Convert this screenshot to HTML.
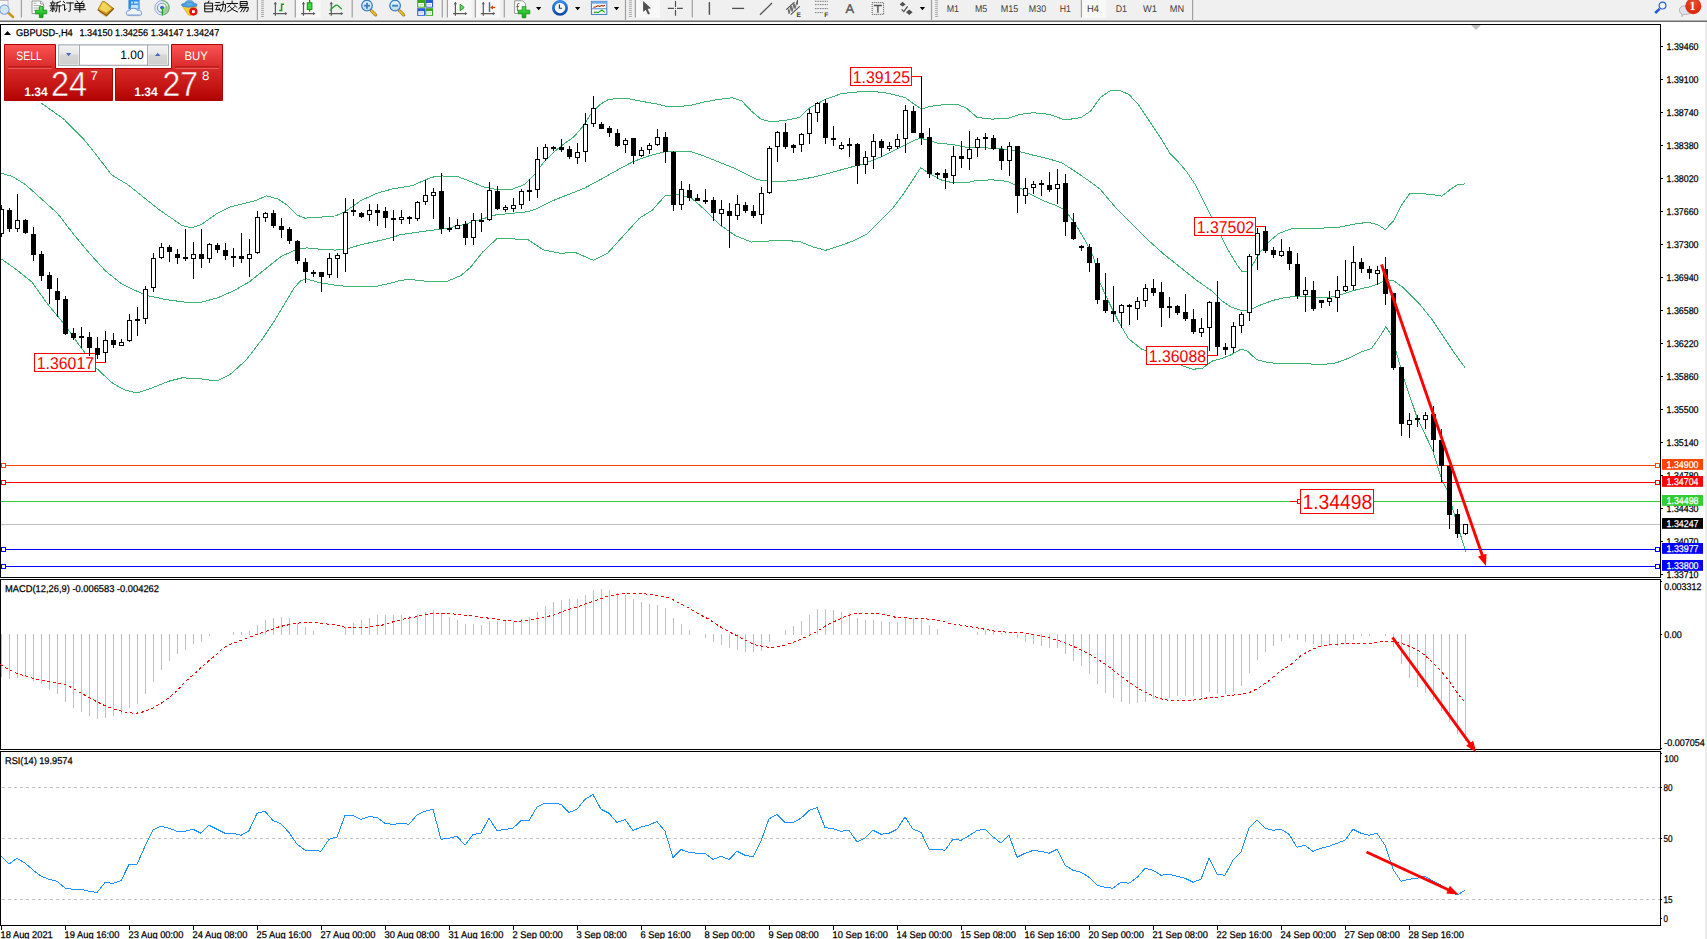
<!DOCTYPE html>
<html><head><meta charset="utf-8"><title>GBPUSD H4</title>
<style>
html,body{margin:0;padding:0;background:#fff;overflow:hidden}
body{width:1707px;height:939px;position:relative;font-family:"Liberation Sans",sans-serif}
svg{position:absolute;left:0;top:0;display:block}
text{font-family:"Liberation Sans",sans-serif;text-rendering:geometricPrecision}
</style></head><body>
<svg width="1707" height="939" viewBox="0 0 1707 939">

<rect x="0" y="0" width="1707" height="939" fill="#fff"/>
<rect x="0" y="0" width="1707" height="20" fill="#f0f0f0"/>
<rect x="0" y="20" width="1707" height="1" fill="#b0b0b0"/><rect x="0" y="21" width="1707" height="1" fill="#6c6c6c"/>
<rect x="1705" y="22" width="2" height="917" fill="#ececec"/>
<g shape-rendering="crispEdges">
<rect x="0" y="24" width="1661" height="1" fill="#000"/>
<rect x="0" y="577" width="1661" height="1" fill="#000"/>
<rect x="0" y="24" width="1" height="554" fill="#000"/>
<rect x="1660" y="24" width="1" height="554" fill="#000"/>
<rect x="0" y="579" width="1661" height="1" fill="#000"/>
<rect x="0" y="749" width="1661" height="1" fill="#000"/>
<rect x="0" y="579" width="1" height="171" fill="#000"/>
<rect x="1660" y="579" width="1" height="171" fill="#000"/>
<rect x="0" y="751" width="1661" height="1" fill="#000"/>
<rect x="0" y="925" width="1661" height="1" fill="#000"/>
<rect x="0" y="751" width="1" height="175" fill="#000"/>
<rect x="1660" y="751" width="1" height="175" fill="#000"/>
</g>
<clipPath id="cm"><rect x="1" y="25" width="1659" height="552"/></clipPath>
<g clip-path="url(#cm)">
<rect x="1" y="524" width="1659" height="1" fill="#c0c0c0" shape-rendering="crispEdges"/>
<polyline points="41.52,103.19 63.88,119.16 83.04,138.33 95.82,154.3 111.79,175.06 127.75,184.64 143.72,197.41 159.69,210.19 172.47,218.81 182.05,225.52 191.63,227.75 201.21,224.56 217.18,213.38 229.96,206.99 242.73,203.8 255.51,200.61 266.69,195.82 277.87,199.01 287.45,205.4 297.03,214.98 305.01,218.17 319.39,217.21 335.36,215.94 344.94,211.79 360.91,200.61 376.88,193.26 392.85,188.79 400,187.75 412.78,185.52 425.55,179.77 431.94,177.21 441.52,175.94 457.49,176.58 470.27,181.37 483.04,186.8 495.82,189.35 511.79,189.35 524.56,184.56 534.14,174.98 543.72,162.2 553.31,152.62 562.89,144.64 574.07,136.65 583.65,125.47 591.63,112.7 599.62,104.71 607.6,99.92 617.18,98.33 629.96,98.97 642.73,101.52 655.51,103.76 666.69,106.31 677.87,106.63 690.64,105.35 703.42,102.16 719.39,99.28 732.16,97.69 741.74,100.88 751.33,111.1 760.91,119.09 770.49,121.64 783.26,120.68 799.23,117.49 809.58,107.91 825.55,99.28 841.52,93.54 857.49,91.94 873.46,91.3 889.43,93.54 905.4,97.69 914.98,104.71 921.37,108.87 930.95,106.31 943.72,104.71 956.5,104.08 966.08,107.91 977.26,117.49 991.63,119.09 1007.6,118.45 1020.38,114.3 1033.15,112.7 1049.12,114.3 1065.09,120.04 1081.06,117.49 1090.64,111.1 1100.22,97.69 1109.81,90.98 1119.39,90.34 1128.97,94.49 1138.55,104.71 1151.33,123.88 1160.91,138.25 1170.49,154.22 1176.65,160 1186.23,171.18 1195.82,185.55 1205.4,204.71 1214.98,223.88 1227.75,249.43 1237.34,265.4 1242.13,271.79 1247.56,271.15 1253.31,263.8 1259.69,252.62 1269.27,241.44 1278.86,233.46 1291.63,228.67 1307.6,228.03 1323.57,228.03 1339.54,227.07 1355.51,223.88 1368.28,222.28 1377.87,224.84 1385.21,229.63 1393.84,220.68 1401.82,204.71 1409.81,193.54 1419.39,193.54 1432.16,194.49 1441.74,196.09 1451.33,188.74 1457.71,184.59 1465.06,183.95" fill="none" stroke="#3cb371" stroke-width="1" shape-rendering="crispEdges"/>
<polyline points="0,172.82 12.78,176.65 25.55,184.64 41.52,199.01 57.49,213.38 73.46,234.14 89.43,253.31 105.4,270.87 121.37,283.65 134.14,290.04 146.92,295.46 166.08,299.62 185.24,302.17 201.21,302.17 217.18,298.02 233.15,290.99 249.12,282.05 265.09,269.27 281.06,256.5 297.03,249.15 306.61,247.88 319.39,249.15 335.36,250.11 348.13,248.51 360.91,244.68 376.88,241.17 392.85,237.34 400,234.7 415.97,232.47 431.94,230.23 447.91,228.32 463.88,224.48 479.85,219.69 495.82,214.9 511.79,213.31 527.75,211.71 537.34,208.51 553.31,200.53 569.27,194.14 585.24,187.75 601.21,179.13 617.18,170.19 633.15,161.56 649.12,155.82 665.09,151.66 681.06,151.03 690.64,151.66 703.42,155.82 719.39,162.2 735.36,168.59 748.13,174.98 757.71,179.77 770.49,181.37 783.26,181.37 799.23,179.77 815.97,176.58 831.94,172.42 847.91,167.95 863.88,163.8 879.85,157.41 895.82,149.43 911.79,141.44 919.77,138.25 927.75,139.85 937.34,143.04 953.31,144.64 969.27,147.83 985.24,147.83 1001.21,148.79 1017.18,151.03 1033.15,155.18 1049.12,159.01 1061.9,162.84 1074.67,171.15 1087.45,179.77 1100.22,189.35 1115.97,207.91 1131.94,223.88 1147.91,239.85 1163.88,254.22 1179.85,266.99 1195.82,279.77 1211.79,290.95 1221.37,300.53 1230.95,306.92 1240.53,310.11 1250.11,310.11 1259.69,305.32 1272.47,300.53 1285.24,297.34 1298.02,296.38 1317.18,297.34 1329.96,297.34 1342.73,294.14 1355.51,289.99 1368.28,287.12 1377.87,283.92 1387.45,279.77 1393.84,280.73 1403.42,287.75 1419.39,303.72 1432.16,319.69 1444.94,338.86 1454.52,353.23 1465.06,367.6" fill="none" stroke="#3cb371" stroke-width="1" shape-rendering="crispEdges"/>
<polyline points="0,258.1 15.97,269.27 31.94,282.05 47.91,304.41 63.88,323.57 79.85,345.93 95.82,367.65 111.79,382.66 124.56,390 137.34,392.88 153.31,387.45 169.27,381.06 182.05,377.87 198.02,378.51 217.18,381.06 229.96,374.67 245.93,360.3 261.9,339.54 274.67,320.38 284.25,304.41 293.84,288.44 300.22,281.09 306.61,278.86 319.39,282.69 335.36,285.24 351.33,286.84 376.88,286.2 392.85,282.69 400,280.38 409.58,279.42 419.16,280.38 431.94,281.97 447.91,281.02 460.68,275.59 470.27,267.6 483.04,251.63 497.41,238.22 511.79,238.86 527.75,239.5 543.72,250.04 559.69,253.23 575.66,252.59 593.23,260.26 607.6,253.23 623.57,235.66 639.54,218.1 652.32,210.11 665.09,195.74 677.87,194.78 690.64,197.34 703.42,208.51 719.39,224.48 735.36,235.66 751.33,242.05 767.29,241.09 783.26,240.45 799.23,241.41 812.78,246.84 825.55,250.35 841.52,245.24 854.3,240.45 867.07,234.07 879.85,221.29 892.62,208.51 902.2,195.74 911.79,181.37 920.73,167.63 927.75,172.42 940.53,179.77 953.31,182.96 966.08,182.96 975.66,180.73 991.63,179.77 1007.6,181.37 1017.18,186.16 1029.96,194.14 1042.73,200.53 1055.51,205.32 1065.09,210.11 1074.67,222.89 1084.25,238.86 1093.84,258.02 1100,282.96 1109.58,303.72 1119.16,322.89 1128.74,338.86 1141.52,349.08 1157.49,354.83 1170.27,359.62 1183.04,366 1192.62,369.2 1202.2,368.56 1211.79,361.21 1221.37,358.66 1230.95,354.83 1240.53,349.4 1246.92,350.67 1256.5,359.62 1269.27,362.81 1285.24,363.77 1304.41,363.77 1323.57,364.41 1336.35,362.81 1349.12,358.02 1361.9,351.63 1371.48,348.44 1379.46,337.26 1385.85,326.72 1390.64,334.07 1397.03,354.83 1403.42,377.18 1417.33,418.35 1432.67,450.3 1441.19,478 1447.58,490.78 1456.11,520.61 1465.69,551.5" fill="none" stroke="#3cb371" stroke-width="1" shape-rendering="crispEdges"/>
<rect x="1" y="465" width="1659" height="1" fill="#ff4500" shape-rendering="crispEdges"/>
<rect x="1" y="482" width="1659" height="1" fill="#ff0000" shape-rendering="crispEdges"/>
<rect x="1" y="501" width="1659" height="1" fill="#32cd32" shape-rendering="crispEdges"/>
<rect x="1" y="549" width="1659" height="1" fill="#0000ff" shape-rendering="crispEdges"/>
<rect x="1" y="566" width="1659" height="1" fill="#0000ff" shape-rendering="crispEdges"/>
<rect x="1.5" y="463.5" width="4" height="4" fill="#fff" stroke="#ff4500" stroke-width="1"/>
<rect x="1655.5" y="463.5" width="4" height="4" fill="#fff" stroke="#ff4500" stroke-width="1"/>
<rect x="1.5" y="480.5" width="4" height="4" fill="#fff" stroke="#ff0000" stroke-width="1"/>
<rect x="1655.5" y="480.5" width="4" height="4" fill="#fff" stroke="#ff0000" stroke-width="1"/>
<rect x="1.5" y="547.5" width="4" height="4" fill="#fff" stroke="#0000ff" stroke-width="1"/>
<rect x="1655.5" y="547.5" width="4" height="4" fill="#fff" stroke="#0000ff" stroke-width="1"/>
<rect x="1.5" y="564.5" width="4" height="4" fill="#fff" stroke="#0000ff" stroke-width="1"/>
<rect x="1655.5" y="564.5" width="4" height="4" fill="#fff" stroke="#0000ff" stroke-width="1"/>
<rect x="850.5" y="67.5" width="61" height="18" fill="#fff" stroke="#ff0000" stroke-width="1"/>
<text x="852.8" y="83.1" font-size="17" fill="#ff0000" textLength="57.2" lengthAdjust="spacingAndGlyphs">1.39125</text>
<rect x="912" y="76" width="10" height="1" fill="#ff0000" shape-rendering="crispEdges"/>
<rect x="34.5" y="353.5" width="61" height="18" fill="#fff" stroke="#ff0000" stroke-width="1"/>
<text x="36.8" y="369.1" font-size="17" fill="#ff0000" textLength="57.2" lengthAdjust="spacingAndGlyphs">1.36017</text>
<rect x="96" y="362" width="10" height="1" fill="#ff0000" shape-rendering="crispEdges"/>
<rect x="1194.5" y="217.5" width="61" height="18" fill="#fff" stroke="#ff0000" stroke-width="1"/>
<text x="1196.8" y="233.1" font-size="17" fill="#ff0000" textLength="57.2" lengthAdjust="spacingAndGlyphs">1.37502</text>
<rect x="1256" y="226" width="10" height="1" fill="#ff0000" shape-rendering="crispEdges"/>
<rect x="1146.5" y="346.5" width="61" height="18" fill="#fff" stroke="#ff0000" stroke-width="1"/>
<text x="1148.8" y="362.1" font-size="17" fill="#ff0000" textLength="57.2" lengthAdjust="spacingAndGlyphs">1.36088</text>
<rect x="1208" y="355" width="10" height="1" fill="#ff0000" shape-rendering="crispEdges"/>
<rect x="1300.5" y="489.5" width="73" height="24" fill="#fff" stroke="#ff0000" stroke-width="1"/>
<text x="1302.5" y="509.4" font-size="20.6" fill="#ff0000" textLength="69.8" lengthAdjust="spacingAndGlyphs">1.34498</text>
<rect x="1290" y="501" width="7" height="1" fill="#ff0000" shape-rendering="crispEdges"/>
<rect x="1297.5" y="499.5" width="3" height="4" fill="#fff" stroke="#ff0000" stroke-width="1"/>
<g shape-rendering="crispEdges">
<rect x="1" y="205" width="1" height="32" fill="#000"/>
<rect x="-1" y="209" width="5" height="25" fill="#000"/>
<rect x="0" y="210" width="3" height="23" fill="#fff"/>
<rect x="9" y="208" width="1" height="24" fill="#000"/>
<rect x="7" y="210" width="5" height="19" fill="#000"/>
<rect x="17" y="194" width="1" height="38" fill="#000"/>
<rect x="15" y="220" width="5" height="9" fill="#000"/>
<rect x="16" y="221" width="3" height="7" fill="#fff"/>
<rect x="25" y="219" width="1" height="15" fill="#000"/>
<rect x="23" y="220" width="5" height="13" fill="#000"/>
<rect x="33" y="227" width="1" height="34" fill="#000"/>
<rect x="31" y="234" width="5" height="21" fill="#000"/>
<rect x="41" y="251" width="1" height="30" fill="#000"/>
<rect x="39" y="254" width="5" height="22" fill="#000"/>
<rect x="49" y="272" width="1" height="32" fill="#000"/>
<rect x="47" y="275" width="5" height="14" fill="#000"/>
<rect x="57" y="278" width="1" height="39" fill="#000"/>
<rect x="55" y="291" width="5" height="9" fill="#000"/>
<rect x="65" y="296" width="1" height="39" fill="#000"/>
<rect x="63" y="299" width="5" height="35" fill="#000"/>
<rect x="73" y="328" width="1" height="12" fill="#000"/>
<rect x="71" y="333" width="5" height="5" fill="#000"/>
<rect x="81" y="327" width="1" height="21" fill="#000"/>
<rect x="79" y="336" width="5" height="2" fill="#000"/>
<rect x="89" y="332" width="1" height="24" fill="#000"/>
<rect x="87" y="337" width="5" height="11" fill="#000"/>
<rect x="97" y="337" width="1" height="22" fill="#000"/>
<rect x="95" y="348" width="5" height="7" fill="#000"/>
<rect x="105" y="331" width="1" height="31" fill="#000"/>
<rect x="103" y="340" width="5" height="13" fill="#000"/>
<rect x="104" y="341" width="3" height="11" fill="#fff"/>
<rect x="113" y="333" width="1" height="15" fill="#000"/>
<rect x="111" y="340" width="5" height="5" fill="#000"/>
<rect x="121" y="339" width="1" height="7" fill="#000"/>
<rect x="119" y="342" width="5" height="4" fill="#000"/>
<rect x="120" y="343" width="3" height="2" fill="#fff"/>
<rect x="129" y="314" width="1" height="28" fill="#000"/>
<rect x="127" y="320" width="5" height="21" fill="#000"/>
<rect x="128" y="321" width="3" height="19" fill="#fff"/>
<rect x="137" y="307" width="1" height="29" fill="#000"/>
<rect x="135" y="319" width="5" height="2" fill="#000"/>
<rect x="145" y="286" width="1" height="38" fill="#000"/>
<rect x="143" y="289" width="5" height="30" fill="#000"/>
<rect x="144" y="290" width="3" height="28" fill="#fff"/>
<rect x="153" y="253" width="1" height="39" fill="#000"/>
<rect x="151" y="258" width="5" height="30" fill="#000"/>
<rect x="152" y="259" width="3" height="28" fill="#fff"/>
<rect x="161" y="243" width="1" height="16" fill="#000"/>
<rect x="159" y="247" width="5" height="11" fill="#000"/>
<rect x="160" y="248" width="3" height="9" fill="#fff"/>
<rect x="169" y="245" width="1" height="17" fill="#000"/>
<rect x="167" y="247" width="5" height="5" fill="#000"/>
<rect x="177" y="249" width="1" height="15" fill="#000"/>
<rect x="175" y="254" width="5" height="4" fill="#000"/>
<rect x="185" y="229" width="1" height="32" fill="#000"/>
<rect x="183" y="257" width="5" height="2" fill="#000"/>
<rect x="193" y="242" width="1" height="37" fill="#000"/>
<rect x="191" y="254" width="5" height="5" fill="#000"/>
<rect x="192" y="255" width="3" height="3" fill="#fff"/>
<rect x="201" y="229" width="1" height="39" fill="#000"/>
<rect x="199" y="254" width="5" height="5" fill="#000"/>
<rect x="209" y="243" width="1" height="20" fill="#000"/>
<rect x="207" y="244" width="5" height="15" fill="#000"/>
<rect x="208" y="245" width="3" height="13" fill="#fff"/>
<rect x="217" y="243" width="1" height="10" fill="#000"/>
<rect x="215" y="245" width="5" height="5" fill="#000"/>
<rect x="225" y="243" width="1" height="17" fill="#000"/>
<rect x="223" y="250" width="5" height="6" fill="#000"/>
<rect x="233" y="248" width="1" height="19" fill="#000"/>
<rect x="231" y="256" width="5" height="2" fill="#000"/>
<rect x="241" y="233" width="1" height="30" fill="#000"/>
<rect x="239" y="256" width="5" height="3" fill="#000"/>
<rect x="249" y="239" width="1" height="38" fill="#000"/>
<rect x="247" y="254" width="5" height="5" fill="#000"/>
<rect x="248" y="255" width="3" height="3" fill="#fff"/>
<rect x="257" y="211" width="1" height="43" fill="#000"/>
<rect x="255" y="217" width="5" height="36" fill="#000"/>
<rect x="256" y="218" width="3" height="34" fill="#fff"/>
<rect x="265" y="212" width="1" height="10" fill="#000"/>
<rect x="263" y="213" width="5" height="5" fill="#000"/>
<rect x="264" y="214" width="3" height="3" fill="#fff"/>
<rect x="273" y="210" width="1" height="18" fill="#000"/>
<rect x="271" y="213" width="5" height="13" fill="#000"/>
<rect x="281" y="218" width="1" height="20" fill="#000"/>
<rect x="279" y="226" width="5" height="4" fill="#000"/>
<rect x="289" y="227" width="1" height="17" fill="#000"/>
<rect x="287" y="229" width="5" height="12" fill="#000"/>
<rect x="297" y="240" width="1" height="24" fill="#000"/>
<rect x="295" y="241" width="5" height="20" fill="#000"/>
<rect x="305" y="258" width="1" height="25" fill="#000"/>
<rect x="303" y="262" width="5" height="10" fill="#000"/>
<rect x="313" y="270" width="1" height="7" fill="#000"/>
<rect x="311" y="272" width="5" height="2" fill="#000"/>
<rect x="321" y="272" width="1" height="20" fill="#000"/>
<rect x="319" y="272" width="5" height="5" fill="#000"/>
<rect x="329" y="253" width="1" height="25" fill="#000"/>
<rect x="327" y="258" width="5" height="17" fill="#000"/>
<rect x="328" y="259" width="3" height="15" fill="#fff"/>
<rect x="337" y="253" width="1" height="25" fill="#000"/>
<rect x="335" y="255" width="5" height="4" fill="#000"/>
<rect x="336" y="256" width="3" height="2" fill="#fff"/>
<rect x="345" y="198" width="1" height="74" fill="#000"/>
<rect x="343" y="212" width="5" height="42" fill="#000"/>
<rect x="344" y="213" width="3" height="40" fill="#fff"/>
<rect x="353" y="199" width="1" height="17" fill="#000"/>
<rect x="351" y="210" width="5" height="2" fill="#000"/>
<rect x="361" y="212" width="1" height="6" fill="#000"/>
<rect x="359" y="213" width="5" height="4" fill="#000"/>
<rect x="369" y="204" width="1" height="17" fill="#000"/>
<rect x="367" y="210" width="5" height="5" fill="#000"/>
<rect x="368" y="211" width="3" height="3" fill="#fff"/>
<rect x="377" y="204" width="1" height="22" fill="#000"/>
<rect x="375" y="210" width="5" height="3" fill="#000"/>
<rect x="385" y="207" width="1" height="21" fill="#000"/>
<rect x="383" y="211" width="5" height="7" fill="#000"/>
<rect x="393" y="210" width="1" height="31" fill="#000"/>
<rect x="391" y="218" width="5" height="2" fill="#000"/>
<rect x="401" y="210" width="1" height="14" fill="#000"/>
<rect x="399" y="217" width="5" height="3" fill="#000"/>
<rect x="400" y="218" width="3" height="1" fill="#fff"/>
<rect x="409" y="216" width="1" height="8" fill="#000"/>
<rect x="407" y="217" width="5" height="2" fill="#000"/>
<rect x="417" y="201" width="1" height="20" fill="#000"/>
<rect x="415" y="202" width="5" height="17" fill="#000"/>
<rect x="416" y="203" width="3" height="15" fill="#fff"/>
<rect x="425" y="180" width="1" height="25" fill="#000"/>
<rect x="423" y="195" width="5" height="7" fill="#000"/>
<rect x="424" y="196" width="3" height="5" fill="#fff"/>
<rect x="433" y="188" width="1" height="31" fill="#000"/>
<rect x="431" y="192" width="5" height="4" fill="#000"/>
<rect x="432" y="193" width="3" height="2" fill="#fff"/>
<rect x="441" y="173" width="1" height="61" fill="#000"/>
<rect x="439" y="191" width="5" height="38" fill="#000"/>
<rect x="449" y="217" width="1" height="15" fill="#000"/>
<rect x="447" y="228" width="5" height="2" fill="#000"/>
<rect x="457" y="219" width="1" height="10" fill="#000"/>
<rect x="455" y="225" width="5" height="4" fill="#000"/>
<rect x="456" y="226" width="3" height="2" fill="#fff"/>
<rect x="465" y="221" width="1" height="24" fill="#000"/>
<rect x="463" y="224" width="5" height="14" fill="#000"/>
<rect x="473" y="213" width="1" height="32" fill="#000"/>
<rect x="471" y="220" width="5" height="18" fill="#000"/>
<rect x="472" y="221" width="3" height="16" fill="#fff"/>
<rect x="481" y="213" width="1" height="19" fill="#000"/>
<rect x="479" y="220" width="5" height="2" fill="#000"/>
<rect x="489" y="182" width="1" height="39" fill="#000"/>
<rect x="487" y="190" width="5" height="30" fill="#000"/>
<rect x="488" y="191" width="3" height="28" fill="#fff"/>
<rect x="497" y="186" width="1" height="24" fill="#000"/>
<rect x="495" y="191" width="5" height="18" fill="#000"/>
<rect x="505" y="205" width="1" height="7" fill="#000"/>
<rect x="503" y="207" width="5" height="3" fill="#000"/>
<rect x="504" y="208" width="3" height="1" fill="#fff"/>
<rect x="513" y="198" width="1" height="14" fill="#000"/>
<rect x="511" y="205" width="5" height="4" fill="#000"/>
<rect x="512" y="206" width="3" height="2" fill="#fff"/>
<rect x="521" y="189" width="1" height="20" fill="#000"/>
<rect x="519" y="191" width="5" height="14" fill="#000"/>
<rect x="520" y="192" width="3" height="12" fill="#fff"/>
<rect x="529" y="179" width="1" height="22" fill="#000"/>
<rect x="527" y="190" width="5" height="2" fill="#000"/>
<rect x="537" y="147" width="1" height="51" fill="#000"/>
<rect x="535" y="159" width="5" height="31" fill="#000"/>
<rect x="536" y="160" width="3" height="29" fill="#fff"/>
<rect x="545" y="144" width="1" height="17" fill="#000"/>
<rect x="543" y="147" width="5" height="12" fill="#000"/>
<rect x="544" y="148" width="3" height="10" fill="#fff"/>
<rect x="553" y="146" width="1" height="5" fill="#000"/>
<rect x="551" y="147" width="5" height="2" fill="#000"/>
<rect x="561" y="139" width="1" height="13" fill="#000"/>
<rect x="559" y="147" width="5" height="3" fill="#000"/>
<rect x="569" y="146" width="1" height="13" fill="#000"/>
<rect x="567" y="149" width="5" height="8" fill="#000"/>
<rect x="577" y="143" width="1" height="21" fill="#000"/>
<rect x="575" y="152" width="5" height="6" fill="#000"/>
<rect x="576" y="153" width="3" height="4" fill="#fff"/>
<rect x="585" y="113" width="1" height="49" fill="#000"/>
<rect x="583" y="124" width="5" height="28" fill="#000"/>
<rect x="584" y="125" width="3" height="26" fill="#fff"/>
<rect x="593" y="96" width="1" height="31" fill="#000"/>
<rect x="591" y="108" width="5" height="16" fill="#000"/>
<rect x="592" y="109" width="3" height="14" fill="#fff"/>
<rect x="601" y="122" width="1" height="7" fill="#000"/>
<rect x="599" y="124" width="5" height="5" fill="#000"/>
<rect x="609" y="126" width="1" height="11" fill="#000"/>
<rect x="607" y="128" width="5" height="5" fill="#000"/>
<rect x="617" y="129" width="1" height="18" fill="#000"/>
<rect x="615" y="133" width="5" height="13" fill="#000"/>
<rect x="625" y="138" width="1" height="15" fill="#000"/>
<rect x="623" y="140" width="5" height="5" fill="#000"/>
<rect x="624" y="141" width="3" height="3" fill="#fff"/>
<rect x="633" y="138" width="1" height="26" fill="#000"/>
<rect x="631" y="138" width="5" height="18" fill="#000"/>
<rect x="641" y="147" width="1" height="10" fill="#000"/>
<rect x="639" y="150" width="5" height="6" fill="#000"/>
<rect x="640" y="151" width="3" height="4" fill="#fff"/>
<rect x="649" y="143" width="1" height="11" fill="#000"/>
<rect x="647" y="145" width="5" height="5" fill="#000"/>
<rect x="648" y="146" width="3" height="3" fill="#fff"/>
<rect x="657" y="129" width="1" height="17" fill="#000"/>
<rect x="655" y="137" width="5" height="8" fill="#000"/>
<rect x="656" y="138" width="3" height="6" fill="#fff"/>
<rect x="665" y="132" width="1" height="31" fill="#000"/>
<rect x="663" y="137" width="5" height="15" fill="#000"/>
<rect x="673" y="151" width="1" height="60" fill="#000"/>
<rect x="671" y="152" width="5" height="53" fill="#000"/>
<rect x="681" y="181" width="1" height="29" fill="#000"/>
<rect x="679" y="189" width="5" height="16" fill="#000"/>
<rect x="680" y="190" width="3" height="14" fill="#fff"/>
<rect x="689" y="184" width="1" height="17" fill="#000"/>
<rect x="687" y="190" width="5" height="8" fill="#000"/>
<rect x="697" y="194" width="1" height="7" fill="#000"/>
<rect x="695" y="198" width="5" height="3" fill="#000"/>
<rect x="705" y="189" width="1" height="15" fill="#000"/>
<rect x="703" y="200" width="5" height="2" fill="#000"/>
<rect x="713" y="197" width="1" height="24" fill="#000"/>
<rect x="711" y="200" width="5" height="13" fill="#000"/>
<rect x="721" y="200" width="1" height="26" fill="#000"/>
<rect x="719" y="209" width="5" height="5" fill="#000"/>
<rect x="720" y="210" width="3" height="3" fill="#fff"/>
<rect x="729" y="203" width="1" height="45" fill="#000"/>
<rect x="727" y="211" width="5" height="5" fill="#000"/>
<rect x="737" y="195" width="1" height="25" fill="#000"/>
<rect x="735" y="204" width="5" height="12" fill="#000"/>
<rect x="736" y="205" width="3" height="10" fill="#fff"/>
<rect x="745" y="202" width="1" height="11" fill="#000"/>
<rect x="743" y="205" width="5" height="6" fill="#000"/>
<rect x="753" y="205" width="1" height="13" fill="#000"/>
<rect x="751" y="211" width="5" height="5" fill="#000"/>
<rect x="761" y="187" width="1" height="37" fill="#000"/>
<rect x="759" y="193" width="5" height="22" fill="#000"/>
<rect x="760" y="194" width="3" height="20" fill="#fff"/>
<rect x="769" y="146" width="1" height="48" fill="#000"/>
<rect x="767" y="148" width="5" height="45" fill="#000"/>
<rect x="768" y="149" width="3" height="43" fill="#fff"/>
<rect x="777" y="131" width="1" height="31" fill="#000"/>
<rect x="775" y="132" width="5" height="15" fill="#000"/>
<rect x="776" y="133" width="3" height="13" fill="#fff"/>
<rect x="785" y="123" width="1" height="26" fill="#000"/>
<rect x="783" y="132" width="5" height="15" fill="#000"/>
<rect x="793" y="144" width="1" height="9" fill="#000"/>
<rect x="791" y="145" width="5" height="3" fill="#000"/>
<rect x="801" y="133" width="1" height="19" fill="#000"/>
<rect x="799" y="134" width="5" height="11" fill="#000"/>
<rect x="800" y="135" width="3" height="9" fill="#fff"/>
<rect x="809" y="109" width="1" height="35" fill="#000"/>
<rect x="807" y="113" width="5" height="21" fill="#000"/>
<rect x="808" y="114" width="3" height="19" fill="#fff"/>
<rect x="817" y="102" width="1" height="20" fill="#000"/>
<rect x="815" y="103" width="5" height="10" fill="#000"/>
<rect x="816" y="104" width="3" height="8" fill="#fff"/>
<rect x="825" y="99" width="1" height="45" fill="#000"/>
<rect x="823" y="103" width="5" height="35" fill="#000"/>
<rect x="833" y="126" width="1" height="20" fill="#000"/>
<rect x="831" y="138" width="5" height="2" fill="#000"/>
<rect x="841" y="142" width="1" height="8" fill="#000"/>
<rect x="839" y="145" width="5" height="4" fill="#000"/>
<rect x="840" y="146" width="3" height="2" fill="#fff"/>
<rect x="849" y="138" width="1" height="19" fill="#000"/>
<rect x="847" y="144" width="5" height="2" fill="#000"/>
<rect x="857" y="143" width="1" height="41" fill="#000"/>
<rect x="855" y="144" width="5" height="22" fill="#000"/>
<rect x="865" y="151" width="1" height="23" fill="#000"/>
<rect x="863" y="157" width="5" height="8" fill="#000"/>
<rect x="864" y="158" width="3" height="6" fill="#fff"/>
<rect x="873" y="134" width="1" height="35" fill="#000"/>
<rect x="871" y="141" width="5" height="16" fill="#000"/>
<rect x="872" y="142" width="3" height="14" fill="#fff"/>
<rect x="881" y="139" width="1" height="18" fill="#000"/>
<rect x="879" y="141" width="5" height="7" fill="#000"/>
<rect x="889" y="142" width="1" height="9" fill="#000"/>
<rect x="887" y="146" width="5" height="3" fill="#000"/>
<rect x="888" y="147" width="3" height="1" fill="#fff"/>
<rect x="897" y="134" width="1" height="15" fill="#000"/>
<rect x="895" y="139" width="5" height="8" fill="#000"/>
<rect x="896" y="140" width="3" height="6" fill="#fff"/>
<rect x="905" y="105" width="1" height="48" fill="#000"/>
<rect x="903" y="110" width="5" height="29" fill="#000"/>
<rect x="904" y="111" width="3" height="27" fill="#fff"/>
<rect x="913" y="106" width="1" height="27" fill="#000"/>
<rect x="911" y="111" width="5" height="22" fill="#000"/>
<rect x="921" y="76" width="1" height="69" fill="#000"/>
<rect x="919" y="133" width="5" height="5" fill="#000"/>
<rect x="929" y="128" width="1" height="50" fill="#000"/>
<rect x="927" y="137" width="5" height="37" fill="#000"/>
<rect x="937" y="172" width="1" height="7" fill="#000"/>
<rect x="935" y="173" width="5" height="2" fill="#000"/>
<rect x="945" y="169" width="1" height="20" fill="#000"/>
<rect x="943" y="173" width="5" height="5" fill="#000"/>
<rect x="953" y="146" width="1" height="38" fill="#000"/>
<rect x="951" y="156" width="5" height="20" fill="#000"/>
<rect x="952" y="157" width="3" height="18" fill="#fff"/>
<rect x="961" y="141" width="1" height="27" fill="#000"/>
<rect x="959" y="156" width="5" height="3" fill="#000"/>
<rect x="969" y="131" width="1" height="39" fill="#000"/>
<rect x="967" y="149" width="5" height="10" fill="#000"/>
<rect x="968" y="150" width="3" height="8" fill="#fff"/>
<rect x="977" y="137" width="1" height="20" fill="#000"/>
<rect x="975" y="139" width="5" height="9" fill="#000"/>
<rect x="976" y="140" width="3" height="7" fill="#fff"/>
<rect x="985" y="133" width="1" height="17" fill="#000"/>
<rect x="983" y="137" width="5" height="2" fill="#000"/>
<rect x="993" y="135" width="1" height="15" fill="#000"/>
<rect x="991" y="138" width="5" height="11" fill="#000"/>
<rect x="1001" y="146" width="1" height="24" fill="#000"/>
<rect x="999" y="149" width="5" height="12" fill="#000"/>
<rect x="1009" y="142" width="1" height="34" fill="#000"/>
<rect x="1007" y="146" width="5" height="15" fill="#000"/>
<rect x="1008" y="147" width="3" height="13" fill="#fff"/>
<rect x="1017" y="146" width="1" height="67" fill="#000"/>
<rect x="1015" y="146" width="5" height="50" fill="#000"/>
<rect x="1025" y="178" width="1" height="26" fill="#000"/>
<rect x="1023" y="188" width="5" height="8" fill="#000"/>
<rect x="1024" y="189" width="3" height="6" fill="#fff"/>
<rect x="1033" y="181" width="1" height="13" fill="#000"/>
<rect x="1031" y="184" width="5" height="4" fill="#000"/>
<rect x="1032" y="185" width="3" height="2" fill="#fff"/>
<rect x="1041" y="180" width="1" height="16" fill="#000"/>
<rect x="1039" y="183" width="5" height="2" fill="#000"/>
<rect x="1049" y="172" width="1" height="20" fill="#000"/>
<rect x="1047" y="185" width="5" height="5" fill="#000"/>
<rect x="1057" y="169" width="1" height="35" fill="#000"/>
<rect x="1055" y="184" width="5" height="5" fill="#000"/>
<rect x="1056" y="185" width="3" height="3" fill="#fff"/>
<rect x="1065" y="174" width="1" height="62" fill="#000"/>
<rect x="1063" y="183" width="5" height="39" fill="#000"/>
<rect x="1073" y="213" width="1" height="27" fill="#000"/>
<rect x="1071" y="222" width="5" height="17" fill="#000"/>
<rect x="1081" y="245" width="1" height="6" fill="#000"/>
<rect x="1079" y="246" width="5" height="2" fill="#000"/>
<rect x="1089" y="244" width="1" height="28" fill="#000"/>
<rect x="1087" y="247" width="5" height="16" fill="#000"/>
<rect x="1097" y="258" width="1" height="46" fill="#000"/>
<rect x="1095" y="263" width="5" height="37" fill="#000"/>
<rect x="1105" y="273" width="1" height="40" fill="#000"/>
<rect x="1103" y="300" width="5" height="11" fill="#000"/>
<rect x="1113" y="286" width="1" height="36" fill="#000"/>
<rect x="1111" y="311" width="5" height="3" fill="#000"/>
<rect x="1121" y="304" width="1" height="24" fill="#000"/>
<rect x="1119" y="305" width="5" height="8" fill="#000"/>
<rect x="1120" y="306" width="3" height="6" fill="#fff"/>
<rect x="1129" y="304" width="1" height="21" fill="#000"/>
<rect x="1127" y="305" width="5" height="2" fill="#000"/>
<rect x="1137" y="297" width="1" height="23" fill="#000"/>
<rect x="1135" y="301" width="5" height="8" fill="#000"/>
<rect x="1136" y="302" width="3" height="6" fill="#fff"/>
<rect x="1145" y="284" width="1" height="23" fill="#000"/>
<rect x="1143" y="288" width="5" height="13" fill="#000"/>
<rect x="1144" y="289" width="3" height="11" fill="#fff"/>
<rect x="1153" y="279" width="1" height="17" fill="#000"/>
<rect x="1151" y="288" width="5" height="5" fill="#000"/>
<rect x="1161" y="282" width="1" height="45" fill="#000"/>
<rect x="1159" y="292" width="5" height="16" fill="#000"/>
<rect x="1169" y="297" width="1" height="21" fill="#000"/>
<rect x="1167" y="306" width="5" height="2" fill="#000"/>
<rect x="1177" y="305" width="1" height="10" fill="#000"/>
<rect x="1175" y="306" width="5" height="7" fill="#000"/>
<rect x="1185" y="294" width="1" height="27" fill="#000"/>
<rect x="1183" y="312" width="5" height="7" fill="#000"/>
<rect x="1193" y="309" width="1" height="25" fill="#000"/>
<rect x="1191" y="319" width="5" height="13" fill="#000"/>
<rect x="1201" y="318" width="1" height="19" fill="#000"/>
<rect x="1199" y="328" width="5" height="5" fill="#000"/>
<rect x="1200" y="329" width="3" height="3" fill="#fff"/>
<rect x="1209" y="301" width="1" height="50" fill="#000"/>
<rect x="1207" y="302" width="5" height="26" fill="#000"/>
<rect x="1208" y="303" width="3" height="24" fill="#fff"/>
<rect x="1217" y="281" width="1" height="74" fill="#000"/>
<rect x="1215" y="302" width="5" height="45" fill="#000"/>
<rect x="1225" y="343" width="1" height="12" fill="#000"/>
<rect x="1223" y="347" width="5" height="3" fill="#000"/>
<rect x="1233" y="322" width="1" height="31" fill="#000"/>
<rect x="1231" y="326" width="5" height="22" fill="#000"/>
<rect x="1232" y="327" width="3" height="20" fill="#fff"/>
<rect x="1241" y="312" width="1" height="21" fill="#000"/>
<rect x="1239" y="314" width="5" height="12" fill="#000"/>
<rect x="1240" y="315" width="3" height="10" fill="#fff"/>
<rect x="1249" y="254" width="1" height="67" fill="#000"/>
<rect x="1247" y="256" width="5" height="57" fill="#000"/>
<rect x="1248" y="257" width="3" height="55" fill="#fff"/>
<rect x="1257" y="228" width="1" height="42" fill="#000"/>
<rect x="1255" y="233" width="5" height="22" fill="#000"/>
<rect x="1256" y="234" width="3" height="20" fill="#fff"/>
<rect x="1265" y="226" width="1" height="27" fill="#000"/>
<rect x="1263" y="231" width="5" height="20" fill="#000"/>
<rect x="1273" y="247" width="1" height="11" fill="#000"/>
<rect x="1271" y="250" width="5" height="5" fill="#000"/>
<rect x="1281" y="239" width="1" height="18" fill="#000"/>
<rect x="1279" y="251" width="5" height="5" fill="#000"/>
<rect x="1280" y="252" width="3" height="3" fill="#fff"/>
<rect x="1289" y="247" width="1" height="23" fill="#000"/>
<rect x="1287" y="251" width="5" height="13" fill="#000"/>
<rect x="1297" y="253" width="1" height="46" fill="#000"/>
<rect x="1295" y="264" width="5" height="32" fill="#000"/>
<rect x="1305" y="277" width="1" height="35" fill="#000"/>
<rect x="1303" y="290" width="5" height="5" fill="#000"/>
<rect x="1304" y="291" width="3" height="3" fill="#fff"/>
<rect x="1313" y="281" width="1" height="30" fill="#000"/>
<rect x="1311" y="290" width="5" height="19" fill="#000"/>
<rect x="1321" y="300" width="1" height="8" fill="#000"/>
<rect x="1319" y="300" width="5" height="3" fill="#000"/>
<rect x="1329" y="291" width="1" height="15" fill="#000"/>
<rect x="1327" y="298" width="5" height="4" fill="#000"/>
<rect x="1328" y="299" width="3" height="2" fill="#fff"/>
<rect x="1337" y="276" width="1" height="36" fill="#000"/>
<rect x="1335" y="290" width="5" height="8" fill="#000"/>
<rect x="1336" y="291" width="3" height="6" fill="#fff"/>
<rect x="1345" y="260" width="1" height="32" fill="#000"/>
<rect x="1343" y="286" width="5" height="5" fill="#000"/>
<rect x="1344" y="287" width="3" height="3" fill="#fff"/>
<rect x="1353" y="246" width="1" height="44" fill="#000"/>
<rect x="1351" y="262" width="5" height="24" fill="#000"/>
<rect x="1352" y="263" width="3" height="22" fill="#fff"/>
<rect x="1361" y="258" width="1" height="15" fill="#000"/>
<rect x="1359" y="262" width="5" height="7" fill="#000"/>
<rect x="1369" y="266" width="1" height="13" fill="#000"/>
<rect x="1367" y="269" width="5" height="4" fill="#000"/>
<rect x="1377" y="266" width="1" height="19" fill="#000"/>
<rect x="1375" y="270" width="5" height="4" fill="#000"/>
<rect x="1376" y="271" width="3" height="2" fill="#fff"/>
<rect x="1385" y="257" width="1" height="48" fill="#000"/>
<rect x="1383" y="269" width="5" height="25" fill="#000"/>
<rect x="1393" y="293" width="1" height="77" fill="#000"/>
<rect x="1391" y="293" width="5" height="75" fill="#000"/>
<rect x="1401" y="367" width="1" height="69" fill="#000"/>
<rect x="1399" y="367" width="5" height="57" fill="#000"/>
<rect x="1409" y="413" width="1" height="25" fill="#000"/>
<rect x="1407" y="420" width="5" height="5" fill="#000"/>
<rect x="1408" y="421" width="3" height="3" fill="#fff"/>
<rect x="1417" y="415" width="1" height="12" fill="#000"/>
<rect x="1415" y="418" width="5" height="2" fill="#000"/>
<rect x="1425" y="412" width="1" height="17" fill="#000"/>
<rect x="1423" y="415" width="5" height="5" fill="#000"/>
<rect x="1424" y="416" width="3" height="3" fill="#fff"/>
<rect x="1433" y="406" width="1" height="46" fill="#000"/>
<rect x="1431" y="414" width="5" height="26" fill="#000"/>
<rect x="1441" y="429" width="1" height="53" fill="#000"/>
<rect x="1439" y="440" width="5" height="26" fill="#000"/>
<rect x="1449" y="465" width="1" height="64" fill="#000"/>
<rect x="1447" y="466" width="5" height="49" fill="#000"/>
<rect x="1457" y="509" width="1" height="29" fill="#000"/>
<rect x="1455" y="514" width="5" height="20" fill="#000"/>
<rect x="1465" y="524" width="1" height="11" fill="#000"/>
<rect x="1463" y="524" width="5" height="10" fill="#000"/>
<rect x="1464" y="525" width="3" height="8" fill="#fff"/>
</g>
</g>
<line x1="1381.5" y1="264.5" x2="1482.89" y2="557.02" stroke="#ff0000" stroke-width="2.9"/>
<polygon points="1486,566 1477.98,556.61 1486.49,553.66" fill="#ff0000"/>
<g shape-rendering="crispEdges">
<rect x="1" y="634" width="1" height="43" fill="#c0c0c0"/>
<rect x="9" y="634" width="1" height="45" fill="#c0c0c0"/>
<rect x="17" y="634" width="1" height="44" fill="#c0c0c0"/>
<rect x="25" y="634" width="1" height="43" fill="#c0c0c0"/>
<rect x="33" y="634" width="1" height="47" fill="#c0c0c0"/>
<rect x="41" y="634" width="1" height="50" fill="#c0c0c0"/>
<rect x="49" y="634" width="1" height="56" fill="#c0c0c0"/>
<rect x="57" y="634" width="1" height="60" fill="#c0c0c0"/>
<rect x="65" y="634" width="1" height="68" fill="#c0c0c0"/>
<rect x="73" y="634" width="1" height="74" fill="#c0c0c0"/>
<rect x="81" y="634" width="1" height="78" fill="#c0c0c0"/>
<rect x="89" y="634" width="1" height="82" fill="#c0c0c0"/>
<rect x="97" y="634" width="1" height="85" fill="#c0c0c0"/>
<rect x="105" y="634" width="1" height="84" fill="#c0c0c0"/>
<rect x="113" y="634" width="1" height="82" fill="#c0c0c0"/>
<rect x="121" y="634" width="1" height="80" fill="#c0c0c0"/>
<rect x="129" y="634" width="1" height="74" fill="#c0c0c0"/>
<rect x="137" y="634" width="1" height="70" fill="#c0c0c0"/>
<rect x="145" y="634" width="1" height="60" fill="#c0c0c0"/>
<rect x="153" y="634" width="1" height="48" fill="#c0c0c0"/>
<rect x="161" y="634" width="1" height="36" fill="#c0c0c0"/>
<rect x="169" y="634" width="1" height="27" fill="#c0c0c0"/>
<rect x="177" y="634" width="1" height="20" fill="#c0c0c0"/>
<rect x="185" y="634" width="1" height="16" fill="#c0c0c0"/>
<rect x="193" y="634" width="1" height="10" fill="#c0c0c0"/>
<rect x="201" y="634" width="1" height="8" fill="#c0c0c0"/>
<rect x="209" y="634" width="1" height="2" fill="#c0c0c0"/>
<rect x="233" y="632" width="1" height="3" fill="#c0c0c0"/>
<rect x="241" y="632" width="1" height="3" fill="#c0c0c0"/>
<rect x="249" y="631" width="1" height="4" fill="#c0c0c0"/>
<rect x="257" y="625" width="1" height="10" fill="#c0c0c0"/>
<rect x="265" y="620" width="1" height="15" fill="#c0c0c0"/>
<rect x="273" y="618" width="1" height="17" fill="#c0c0c0"/>
<rect x="281" y="617" width="1" height="18" fill="#c0c0c0"/>
<rect x="289" y="618" width="1" height="17" fill="#c0c0c0"/>
<rect x="297" y="623" width="1" height="12" fill="#c0c0c0"/>
<rect x="305" y="627" width="1" height="8" fill="#c0c0c0"/>
<rect x="313" y="631" width="1" height="4" fill="#c0c0c0"/>
<rect x="345" y="627" width="1" height="8" fill="#c0c0c0"/>
<rect x="353" y="623" width="1" height="12" fill="#c0c0c0"/>
<rect x="361" y="620" width="1" height="15" fill="#c0c0c0"/>
<rect x="369" y="618" width="1" height="17" fill="#c0c0c0"/>
<rect x="377" y="615" width="1" height="20" fill="#c0c0c0"/>
<rect x="385" y="615" width="1" height="20" fill="#c0c0c0"/>
<rect x="393" y="615" width="1" height="20" fill="#c0c0c0"/>
<rect x="401" y="615" width="1" height="20" fill="#c0c0c0"/>
<rect x="409" y="616" width="1" height="19" fill="#c0c0c0"/>
<rect x="417" y="614" width="1" height="21" fill="#c0c0c0"/>
<rect x="425" y="612" width="1" height="23" fill="#c0c0c0"/>
<rect x="433" y="610" width="1" height="25" fill="#c0c0c0"/>
<rect x="441" y="613" width="1" height="22" fill="#c0c0c0"/>
<rect x="449" y="617" width="1" height="18" fill="#c0c0c0"/>
<rect x="457" y="620" width="1" height="15" fill="#c0c0c0"/>
<rect x="465" y="624" width="1" height="11" fill="#c0c0c0"/>
<rect x="473" y="624" width="1" height="11" fill="#c0c0c0"/>
<rect x="481" y="625" width="1" height="10" fill="#c0c0c0"/>
<rect x="489" y="621" width="1" height="14" fill="#c0c0c0"/>
<rect x="497" y="621" width="1" height="14" fill="#c0c0c0"/>
<rect x="505" y="621" width="1" height="14" fill="#c0c0c0"/>
<rect x="513" y="622" width="1" height="13" fill="#c0c0c0"/>
<rect x="521" y="619" width="1" height="16" fill="#c0c0c0"/>
<rect x="529" y="617" width="1" height="18" fill="#c0c0c0"/>
<rect x="537" y="612" width="1" height="23" fill="#c0c0c0"/>
<rect x="545" y="606" width="1" height="29" fill="#c0c0c0"/>
<rect x="553" y="602" width="1" height="33" fill="#c0c0c0"/>
<rect x="561" y="600" width="1" height="35" fill="#c0c0c0"/>
<rect x="569" y="599" width="1" height="36" fill="#c0c0c0"/>
<rect x="577" y="599" width="1" height="36" fill="#c0c0c0"/>
<rect x="585" y="595" width="1" height="40" fill="#c0c0c0"/>
<rect x="593" y="590" width="1" height="45" fill="#c0c0c0"/>
<rect x="601" y="589" width="1" height="46" fill="#c0c0c0"/>
<rect x="609" y="590" width="1" height="45" fill="#c0c0c0"/>
<rect x="617" y="593" width="1" height="42" fill="#c0c0c0"/>
<rect x="625" y="595" width="1" height="40" fill="#c0c0c0"/>
<rect x="633" y="599" width="1" height="36" fill="#c0c0c0"/>
<rect x="641" y="602" width="1" height="33" fill="#c0c0c0"/>
<rect x="649" y="604" width="1" height="31" fill="#c0c0c0"/>
<rect x="657" y="605" width="1" height="30" fill="#c0c0c0"/>
<rect x="665" y="608" width="1" height="27" fill="#c0c0c0"/>
<rect x="673" y="618" width="1" height="17" fill="#c0c0c0"/>
<rect x="681" y="624" width="1" height="11" fill="#c0c0c0"/>
<rect x="689" y="630" width="1" height="5" fill="#c0c0c0"/>
<rect x="705" y="634" width="1" height="4" fill="#c0c0c0"/>
<rect x="713" y="634" width="1" height="8" fill="#c0c0c0"/>
<rect x="721" y="634" width="1" height="11" fill="#c0c0c0"/>
<rect x="729" y="634" width="1" height="14" fill="#c0c0c0"/>
<rect x="737" y="634" width="1" height="16" fill="#c0c0c0"/>
<rect x="745" y="634" width="1" height="18" fill="#c0c0c0"/>
<rect x="753" y="634" width="1" height="18" fill="#c0c0c0"/>
<rect x="761" y="634" width="1" height="17" fill="#c0c0c0"/>
<rect x="769" y="634" width="1" height="8" fill="#c0c0c0"/>
<rect x="785" y="630" width="1" height="5" fill="#c0c0c0"/>
<rect x="793" y="626" width="1" height="9" fill="#c0c0c0"/>
<rect x="801" y="621" width="1" height="14" fill="#c0c0c0"/>
<rect x="809" y="615" width="1" height="20" fill="#c0c0c0"/>
<rect x="817" y="609" width="1" height="26" fill="#c0c0c0"/>
<rect x="825" y="609" width="1" height="26" fill="#c0c0c0"/>
<rect x="833" y="610" width="1" height="25" fill="#c0c0c0"/>
<rect x="841" y="612" width="1" height="23" fill="#c0c0c0"/>
<rect x="849" y="613" width="1" height="22" fill="#c0c0c0"/>
<rect x="857" y="618" width="1" height="17" fill="#c0c0c0"/>
<rect x="865" y="620" width="1" height="15" fill="#c0c0c0"/>
<rect x="873" y="620" width="1" height="15" fill="#c0c0c0"/>
<rect x="881" y="621" width="1" height="14" fill="#c0c0c0"/>
<rect x="889" y="622" width="1" height="13" fill="#c0c0c0"/>
<rect x="897" y="622" width="1" height="13" fill="#c0c0c0"/>
<rect x="905" y="618" width="1" height="17" fill="#c0c0c0"/>
<rect x="913" y="618" width="1" height="17" fill="#c0c0c0"/>
<rect x="921" y="619" width="1" height="16" fill="#c0c0c0"/>
<rect x="929" y="625" width="1" height="10" fill="#c0c0c0"/>
<rect x="937" y="629" width="1" height="6" fill="#c0c0c0"/>
<rect x="977" y="632" width="1" height="3" fill="#c0c0c0"/>
<rect x="985" y="630" width="1" height="5" fill="#c0c0c0"/>
<rect x="993" y="631" width="1" height="4" fill="#c0c0c0"/>
<rect x="1001" y="633" width="1" height="2" fill="#c0c0c0"/>
<rect x="1017" y="634" width="1" height="4" fill="#c0c0c0"/>
<rect x="1025" y="634" width="1" height="8" fill="#c0c0c0"/>
<rect x="1033" y="634" width="1" height="10" fill="#c0c0c0"/>
<rect x="1041" y="634" width="1" height="12" fill="#c0c0c0"/>
<rect x="1049" y="634" width="1" height="14" fill="#c0c0c0"/>
<rect x="1057" y="634" width="1" height="14" fill="#c0c0c0"/>
<rect x="1065" y="634" width="1" height="20" fill="#c0c0c0"/>
<rect x="1073" y="634" width="1" height="27" fill="#c0c0c0"/>
<rect x="1081" y="634" width="1" height="32" fill="#c0c0c0"/>
<rect x="1089" y="634" width="1" height="40" fill="#c0c0c0"/>
<rect x="1097" y="634" width="1" height="50" fill="#c0c0c0"/>
<rect x="1105" y="634" width="1" height="59" fill="#c0c0c0"/>
<rect x="1113" y="634" width="1" height="64" fill="#c0c0c0"/>
<rect x="1121" y="634" width="1" height="68" fill="#c0c0c0"/>
<rect x="1129" y="634" width="1" height="70" fill="#c0c0c0"/>
<rect x="1137" y="634" width="1" height="69" fill="#c0c0c0"/>
<rect x="1145" y="634" width="1" height="68" fill="#c0c0c0"/>
<rect x="1153" y="634" width="1" height="65" fill="#c0c0c0"/>
<rect x="1161" y="634" width="1" height="66" fill="#c0c0c0"/>
<rect x="1169" y="634" width="1" height="64" fill="#c0c0c0"/>
<rect x="1177" y="634" width="1" height="62" fill="#c0c0c0"/>
<rect x="1185" y="634" width="1" height="62" fill="#c0c0c0"/>
<rect x="1193" y="634" width="1" height="62" fill="#c0c0c0"/>
<rect x="1201" y="634" width="1" height="63" fill="#c0c0c0"/>
<rect x="1209" y="634" width="1" height="58" fill="#c0c0c0"/>
<rect x="1217" y="634" width="1" height="60" fill="#c0c0c0"/>
<rect x="1225" y="634" width="1" height="60" fill="#c0c0c0"/>
<rect x="1233" y="634" width="1" height="58" fill="#c0c0c0"/>
<rect x="1241" y="634" width="1" height="52" fill="#c0c0c0"/>
<rect x="1249" y="634" width="1" height="39" fill="#c0c0c0"/>
<rect x="1257" y="634" width="1" height="26" fill="#c0c0c0"/>
<rect x="1265" y="634" width="1" height="18" fill="#c0c0c0"/>
<rect x="1273" y="634" width="1" height="12" fill="#c0c0c0"/>
<rect x="1281" y="634" width="1" height="7" fill="#c0c0c0"/>
<rect x="1289" y="634" width="1" height="4" fill="#c0c0c0"/>
<rect x="1297" y="634" width="1" height="6" fill="#c0c0c0"/>
<rect x="1305" y="634" width="1" height="8" fill="#c0c0c0"/>
<rect x="1313" y="634" width="1" height="10" fill="#c0c0c0"/>
<rect x="1321" y="634" width="1" height="12" fill="#c0c0c0"/>
<rect x="1329" y="634" width="1" height="12" fill="#c0c0c0"/>
<rect x="1337" y="634" width="1" height="12" fill="#c0c0c0"/>
<rect x="1345" y="634" width="1" height="9" fill="#c0c0c0"/>
<rect x="1353" y="634" width="1" height="6" fill="#c0c0c0"/>
<rect x="1361" y="634" width="1" height="2" fill="#c0c0c0"/>
<rect x="1369" y="634" width="1" height="2" fill="#c0c0c0"/>
<rect x="1385" y="634" width="1" height="2" fill="#c0c0c0"/>
<rect x="1393" y="634" width="1" height="13" fill="#c0c0c0"/>
<rect x="1401" y="634" width="1" height="30" fill="#c0c0c0"/>
<rect x="1409" y="634" width="1" height="44" fill="#c0c0c0"/>
<rect x="1417" y="634" width="1" height="53" fill="#c0c0c0"/>
<rect x="1425" y="634" width="1" height="59" fill="#c0c0c0"/>
<rect x="1433" y="634" width="1" height="66" fill="#c0c0c0"/>
<rect x="1441" y="634" width="1" height="77" fill="#c0c0c0"/>
<rect x="1449" y="634" width="1" height="88" fill="#c0c0c0"/>
<rect x="1457" y="634" width="1" height="100" fill="#c0c0c0"/>
<rect x="1465" y="634" width="1" height="107" fill="#c0c0c0"/>
</g>
<polyline points="0,664.5 10,670 17.5,674 25,675.75 32.5,678.25 41.25,680 50,681.5 57.5,683.25 67.5,685.25 75,689.5 85,695.25 95,700.75 105,705.75 115,709.5 125,712 135,713.5 145,711.5 155,707 165,700.75 175,692.75 185,682 195,673.25 205,664 215,655.75 222.5,648.25 230,644.5 240,640.75 250,637 260,633.25 270,630 280,626.5 290,624.5 300,622.75 312.5,622.5 322.5,623.25 330,624.5 340,625.25 345,627.5 355,627.5 370,627 382.5,625 392.5,622 405,618.75 415,617 425,614.5 434.5,613.25 452,613.75 469.5,615.75 489.5,618.25 507,620.75 519.5,621.25 532,619.5 544.5,617 554.5,615 564.5,610.75 577,607 587,603.25 597,600 607,596.5 617,594.5 627,593.5 642,593.5 657,595.25 669.5,597.75 679.5,603.25 689.5,608.25 699.5,614.5 709.5,619.5 719.5,626.5 729.5,632 739.5,637 749.5,642.5 757,645.25 767,647 777,647 787,644.5 797,640.75 807,636.5 817,631.5 827,625 837,620.25 847,615.75 853.75,614 864,613.25 876.5,613.25 886.5,615 896.5,617.5 911.5,618.25 926.5,619 939,620.25 949,623.25 961.5,625.25 976.5,627.75 989,630 996.5,631.5 1009,632.25 1019,632.5 1029,633.75 1039,635.25 1049,637.75 1059,640.75 1069,644.5 1079,649 1089,654 1099,660 1109,667 1119,674.5 1129,682 1139,689 1149,694 1159,698.25 1169,700.5 1179,701 1189,700.5 1199,699.5 1209,697.5 1219,697 1229,695.5 1239,694.5 1249,692.75 1259,687.75 1269,680.75 1279,672 1290.98,664.34 1300.97,655.6 1310.95,649.86 1320.93,646.12 1330.91,644.37 1345.89,643.62 1360.86,643.62 1370.84,643.13 1380.83,641.88 1390.81,641.13 1400.79,643.13 1410.77,646.87 1420.76,651.86 1430.74,660.59 1440.72,670.58 1450.7,683.06 1458.19,694.29 1465.18,702.27" fill="none" stroke="#ff0000" stroke-width="1" stroke-dasharray="3 2.6" shape-rendering="crispEdges"/>
<line x1="1392.5" y1="637.5" x2="1470.8" y2="744.92" stroke="#ff0000" stroke-width="2.9"/>
<polygon points="1476.4,752.6 1466.15,745.84 1473.1,740.77" fill="#ff0000"/>
<line x1="2" y1="787.5" x2="1660" y2="787.5" stroke="#c0c0c0" stroke-width="1" stroke-dasharray="3 3" shape-rendering="crispEdges"/>
<line x1="2" y1="838.5" x2="1660" y2="838.5" stroke="#c0c0c0" stroke-width="1" stroke-dasharray="3 3" shape-rendering="crispEdges"/>
<line x1="2" y1="899.5" x2="1660" y2="899.5" stroke="#c0c0c0" stroke-width="1" stroke-dasharray="3 3" shape-rendering="crispEdges"/>
<polyline points="1,856.25 9,864.25 17,858.25 25,863 33,870 41,876.25 49,879.25 57,881.25 65,888 73,889.25 81,889.25 89,891.25 97,892.5 105,882.5 113,883.25 121,880.75 129,864.5 137,864.25 145,846.25 153,830 161,826.25 169,828.25 177,831.25 185,831.25 193,829.25 201,833.25 209,825.25 217,829.25 225,833.25 233,833.25 241,835.25 249,830.75 257,813.25 265,811.25 273,820.5 281,823.75 289,832.5 297,844.25 305,850 313,850.25 321,851.25 329,839.25 337,837 345,815.5 353,815.5 361,819.5 369,816.5 377,817.5 385,823.25 393,824.5 401,823.25 409,824.25 417,815 425,811.25 433,809.25 441,839.25 449,838.25 457,836.25 465,845.25 473,834.5 481,833 489,818.25 497,830.5 505,829.5 513,828.25 521,820.5 529,820.5 537,807 545,803.25 553,803.25 561,804.25 569,812.5 577,809.25 585,799.25 593,794.5 601,809.25 609,813.25 617,822.5 625,819.5 633,830.5 641,827 649,825 657,821.5 665,831.25 673,857.5 681,849.5 689,852.25 697,853.25 705,853.25 713,859.5 721,856.25 729,859.5 737,851.25 745,855.25 753,856.75 761,841.25 769,818.75 777,814.5 785,822.5 793,822.5 801,818.25 809,810.5 817,807.5 825,827.5 833,828.75 841,831.25 849,830.25 857,842 865,838 873,830.25 881,834.25 889,833.25 897,829.25 905,817 913,829.25 921,832.25 929,849.25 937,849.25 945,850.25 953,839.25 961,840.25 969,835.75 977,830.5 985,829.25 993,836.75 1001,843.25 1009,835.25 1017,857.25 1025,853.25 1033,850.5 1041,851.25 1049,853.25 1057,849.25 1065,865.25 1073,870.25 1081,872.25 1089,877.25 1097,885.25 1105,887.25 1113,888.25 1121,882.25 1129,883.25 1137,877.5 1145,868.25 1153,870.25 1161,875.25 1169,874.25 1177,876.25 1185,878.25 1193,882.25 1201,879.25 1209,858.25 1217,874.25 1225,875.25 1233,860.25 1241,852.25 1249,828.25 1257,820.25 1265,828.25 1273,830.25 1281,829.25 1289,834.25 1297,847.25 1305,845.25 1313,851.25 1321,848.25 1329,846.25 1337,843.25 1345,840.25 1353,829.25 1361,833.25 1369,835.25 1377,833.25 1385,845.25 1393,869.25 1401,881.25 1409,879.25 1417,878.25 1425,876.25 1433,881.25 1441,885.25 1449,891.25 1457,895 1465,890.5" fill="none" stroke="#1e90ff" stroke-width="1" shape-rendering="crispEdges"/>
<line x1="1366.5" y1="852" x2="1449.88" y2="890.52" stroke="#ff0000" stroke-width="2.9"/>
<polygon points="1458.5,894.5 1446.26,893.58 1449.86,885.77" fill="#ff0000"/>
<g shape-rendering="crispEdges">
<rect x="1661" y="46" width="2" height="1" fill="#000"/>
<rect x="1661" y="79" width="2" height="1" fill="#000"/>
<rect x="1661" y="112" width="2" height="1" fill="#000"/>
<rect x="1661" y="145" width="2" height="1" fill="#000"/>
<rect x="1661" y="178" width="2" height="1" fill="#000"/>
<rect x="1661" y="211" width="2" height="1" fill="#000"/>
<rect x="1661" y="244" width="2" height="1" fill="#000"/>
<rect x="1661" y="277" width="2" height="1" fill="#000"/>
<rect x="1661" y="310" width="2" height="1" fill="#000"/>
<rect x="1661" y="343" width="2" height="1" fill="#000"/>
<rect x="1661" y="376" width="2" height="1" fill="#000"/>
<rect x="1661" y="409" width="2" height="1" fill="#000"/>
<rect x="1661" y="442" width="2" height="1" fill="#000"/>
<rect x="1661" y="475" width="2" height="1" fill="#000"/>
<rect x="1661" y="508" width="2" height="1" fill="#000"/>
<rect x="1661" y="541" width="2" height="1" fill="#000"/>
<rect x="1661" y="574" width="2" height="1" fill="#000"/>
<rect x="1661" y="581" width="1" height="1" fill="#000"/>
<rect x="1661" y="634" width="1" height="1" fill="#000"/>
<rect x="1661" y="748" width="1" height="1" fill="#000"/>
<rect x="1661" y="753" width="1" height="1" fill="#000"/>
<rect x="1661" y="787" width="1" height="1" fill="#000"/>
<rect x="1661" y="838" width="1" height="1" fill="#000"/>
<rect x="1661" y="899" width="1" height="1" fill="#000"/>
<rect x="1661" y="918" width="1" height="1" fill="#000"/>
</g>
<text x="1666.5" y="49.9" font-size="9.8" fill="#000" stroke="#000" stroke-width="0.25" textLength="32" lengthAdjust="spacingAndGlyphs">1.39460</text>
<text x="1666.5" y="82.9" font-size="9.8" fill="#000" stroke="#000" stroke-width="0.25" textLength="32" lengthAdjust="spacingAndGlyphs">1.39100</text>
<text x="1666.5" y="115.9" font-size="9.8" fill="#000" stroke="#000" stroke-width="0.25" textLength="32" lengthAdjust="spacingAndGlyphs">1.38740</text>
<text x="1666.5" y="148.9" font-size="9.8" fill="#000" stroke="#000" stroke-width="0.25" textLength="32" lengthAdjust="spacingAndGlyphs">1.38380</text>
<text x="1666.5" y="181.9" font-size="9.8" fill="#000" stroke="#000" stroke-width="0.25" textLength="32" lengthAdjust="spacingAndGlyphs">1.38020</text>
<text x="1666.5" y="214.9" font-size="9.8" fill="#000" stroke="#000" stroke-width="0.25" textLength="32" lengthAdjust="spacingAndGlyphs">1.37660</text>
<text x="1666.5" y="247.9" font-size="9.8" fill="#000" stroke="#000" stroke-width="0.25" textLength="32" lengthAdjust="spacingAndGlyphs">1.37300</text>
<text x="1666.5" y="280.9" font-size="9.8" fill="#000" stroke="#000" stroke-width="0.25" textLength="32" lengthAdjust="spacingAndGlyphs">1.36940</text>
<text x="1666.5" y="313.9" font-size="9.8" fill="#000" stroke="#000" stroke-width="0.25" textLength="32" lengthAdjust="spacingAndGlyphs">1.36580</text>
<text x="1666.5" y="346.9" font-size="9.8" fill="#000" stroke="#000" stroke-width="0.25" textLength="32" lengthAdjust="spacingAndGlyphs">1.36220</text>
<text x="1666.5" y="379.9" font-size="9.8" fill="#000" stroke="#000" stroke-width="0.25" textLength="32" lengthAdjust="spacingAndGlyphs">1.35860</text>
<text x="1666.5" y="412.9" font-size="9.8" fill="#000" stroke="#000" stroke-width="0.25" textLength="32" lengthAdjust="spacingAndGlyphs">1.35500</text>
<text x="1666.5" y="445.9" font-size="9.8" fill="#000" stroke="#000" stroke-width="0.25" textLength="32" lengthAdjust="spacingAndGlyphs">1.35140</text>
<text x="1666.5" y="478.9" font-size="9.8" fill="#000" stroke="#000" stroke-width="0.25" textLength="32" lengthAdjust="spacingAndGlyphs">1.34780</text>
<text x="1666.5" y="511.9" font-size="9.8" fill="#000" stroke="#000" stroke-width="0.25" textLength="32" lengthAdjust="spacingAndGlyphs">1.34430</text>
<text x="1666.5" y="544.9" font-size="9.8" fill="#000" stroke="#000" stroke-width="0.25" textLength="32" lengthAdjust="spacingAndGlyphs">1.34070</text>
<text x="1666.5" y="577.9" font-size="9.8" fill="#000" stroke="#000" stroke-width="0.25" textLength="32" lengthAdjust="spacingAndGlyphs">1.33710</text>
<rect x="1662" y="459" width="41" height="10.85" fill="#ff4500"/>
<text x="1666.5" y="467.9" font-size="9.8" fill="#fff" stroke="#fff" stroke-width="0.25" textLength="32" lengthAdjust="spacingAndGlyphs">1.34900</text>
<rect x="1662" y="476" width="41" height="10.85" fill="#ff0000"/>
<text x="1666.5" y="484.9" font-size="9.8" fill="#fff" stroke="#fff" stroke-width="0.25" textLength="32" lengthAdjust="spacingAndGlyphs">1.34704</text>
<rect x="1662" y="495" width="41" height="10.85" fill="#32cd32"/>
<text x="1666.5" y="503.9" font-size="9.8" fill="#fff" stroke="#fff" stroke-width="0.25" textLength="32" lengthAdjust="spacingAndGlyphs">1.34498</text>
<rect x="1662" y="518" width="41" height="10.85" fill="#000"/>
<text x="1666.5" y="526.9" font-size="9.8" fill="#fff" stroke="#fff" stroke-width="0.25" textLength="32" lengthAdjust="spacingAndGlyphs">1.34247</text>
<rect x="1662" y="543" width="41" height="10.85" fill="#0000ff"/>
<text x="1666.5" y="551.9" font-size="9.8" fill="#fff" stroke="#fff" stroke-width="0.25" textLength="32" lengthAdjust="spacingAndGlyphs">1.33977</text>
<rect x="1662" y="560" width="41" height="10.85" fill="#0000ff"/>
<text x="1666.5" y="568.9" font-size="9.8" fill="#fff" stroke="#fff" stroke-width="0.25" textLength="32" lengthAdjust="spacingAndGlyphs">1.33800</text>
<text x="1664.2" y="589.9" font-size="9.8" fill="#000" stroke="#000" stroke-width="0.25" textLength="37.3" lengthAdjust="spacingAndGlyphs">0.003312</text>
<text x="1664.2" y="638" font-size="9.8" fill="#000" stroke="#000" stroke-width="0.25" textLength="17.5" lengthAdjust="spacingAndGlyphs">0.00</text>
<text x="1664.2" y="745.6" font-size="9.8" fill="#000" stroke="#000" stroke-width="0.25" textLength="40.6" lengthAdjust="spacingAndGlyphs">-0.007054</text>
<text x="1664.2" y="761.9" font-size="9.8" fill="#000" stroke="#000" stroke-width="0.25" textLength="14.2" lengthAdjust="spacingAndGlyphs">100</text>
<text x="1663.4" y="791" font-size="9.8" fill="#000" stroke="#000" stroke-width="0.25" textLength="9.1" lengthAdjust="spacingAndGlyphs">80</text>
<text x="1663.4" y="841.9" font-size="9.8" fill="#000" stroke="#000" stroke-width="0.25" textLength="9.1" lengthAdjust="spacingAndGlyphs">50</text>
<text x="1663.4" y="902.9" font-size="9.8" fill="#000" stroke="#000" stroke-width="0.25" textLength="9.1" lengthAdjust="spacingAndGlyphs">15</text>
<text x="1663.4" y="922" font-size="9.8" fill="#000" stroke="#000" stroke-width="0.25" textLength="4.5" lengthAdjust="spacingAndGlyphs">0</text>
<rect x="1" y="926" width="1" height="4" fill="#000" shape-rendering="crispEdges"/>
<text x="0.6" y="937.7" font-size="9.8" fill="#000" stroke="#000" stroke-width="0.25" textLength="52.2" lengthAdjust="spacingAndGlyphs">18 Aug 2021</text>
<rect x="65" y="926" width="1" height="4" fill="#000" shape-rendering="crispEdges"/>
<text x="64.6" y="937.7" font-size="9.8" fill="#000" stroke="#000" stroke-width="0.25" textLength="54.8" lengthAdjust="spacingAndGlyphs">19 Aug 16:00</text>
<rect x="129" y="926" width="1" height="4" fill="#000" shape-rendering="crispEdges"/>
<text x="128.6" y="937.7" font-size="9.8" fill="#000" stroke="#000" stroke-width="0.25" textLength="54.8" lengthAdjust="spacingAndGlyphs">23 Aug 00:00</text>
<rect x="193" y="926" width="1" height="4" fill="#000" shape-rendering="crispEdges"/>
<text x="192.6" y="937.7" font-size="9.8" fill="#000" stroke="#000" stroke-width="0.25" textLength="54.8" lengthAdjust="spacingAndGlyphs">24 Aug 08:00</text>
<rect x="257" y="926" width="1" height="4" fill="#000" shape-rendering="crispEdges"/>
<text x="256.6" y="937.7" font-size="9.8" fill="#000" stroke="#000" stroke-width="0.25" textLength="54.8" lengthAdjust="spacingAndGlyphs">25 Aug 16:00</text>
<rect x="321" y="926" width="1" height="4" fill="#000" shape-rendering="crispEdges"/>
<text x="320.6" y="937.7" font-size="9.8" fill="#000" stroke="#000" stroke-width="0.25" textLength="54.8" lengthAdjust="spacingAndGlyphs">27 Aug 00:00</text>
<rect x="385" y="926" width="1" height="4" fill="#000" shape-rendering="crispEdges"/>
<text x="384.6" y="937.7" font-size="9.8" fill="#000" stroke="#000" stroke-width="0.25" textLength="54.8" lengthAdjust="spacingAndGlyphs">30 Aug 08:00</text>
<rect x="449" y="926" width="1" height="4" fill="#000" shape-rendering="crispEdges"/>
<text x="448.6" y="937.7" font-size="9.8" fill="#000" stroke="#000" stroke-width="0.25" textLength="54.8" lengthAdjust="spacingAndGlyphs">31 Aug 16:00</text>
<rect x="513" y="926" width="1" height="4" fill="#000" shape-rendering="crispEdges"/>
<text x="512.6" y="937.7" font-size="9.8" fill="#000" stroke="#000" stroke-width="0.25" textLength="50.2" lengthAdjust="spacingAndGlyphs">2 Sep 00:00</text>
<rect x="577" y="926" width="1" height="4" fill="#000" shape-rendering="crispEdges"/>
<text x="576.6" y="937.7" font-size="9.8" fill="#000" stroke="#000" stroke-width="0.25" textLength="50.2" lengthAdjust="spacingAndGlyphs">3 Sep 08:00</text>
<rect x="641" y="926" width="1" height="4" fill="#000" shape-rendering="crispEdges"/>
<text x="640.6" y="937.7" font-size="9.8" fill="#000" stroke="#000" stroke-width="0.25" textLength="50.2" lengthAdjust="spacingAndGlyphs">6 Sep 16:00</text>
<rect x="705" y="926" width="1" height="4" fill="#000" shape-rendering="crispEdges"/>
<text x="704.6" y="937.7" font-size="9.8" fill="#000" stroke="#000" stroke-width="0.25" textLength="50.2" lengthAdjust="spacingAndGlyphs">8 Sep 00:00</text>
<rect x="769" y="926" width="1" height="4" fill="#000" shape-rendering="crispEdges"/>
<text x="768.6" y="937.7" font-size="9.8" fill="#000" stroke="#000" stroke-width="0.25" textLength="50.2" lengthAdjust="spacingAndGlyphs">9 Sep 08:00</text>
<rect x="833" y="926" width="1" height="4" fill="#000" shape-rendering="crispEdges"/>
<text x="832.6" y="937.7" font-size="9.8" fill="#000" stroke="#000" stroke-width="0.25" textLength="55.3" lengthAdjust="spacingAndGlyphs">10 Sep 16:00</text>
<rect x="897" y="926" width="1" height="4" fill="#000" shape-rendering="crispEdges"/>
<text x="896.6" y="937.7" font-size="9.8" fill="#000" stroke="#000" stroke-width="0.25" textLength="55.3" lengthAdjust="spacingAndGlyphs">14 Sep 00:00</text>
<rect x="961" y="926" width="1" height="4" fill="#000" shape-rendering="crispEdges"/>
<text x="960.6" y="937.7" font-size="9.8" fill="#000" stroke="#000" stroke-width="0.25" textLength="55.3" lengthAdjust="spacingAndGlyphs">15 Sep 08:00</text>
<rect x="1025" y="926" width="1" height="4" fill="#000" shape-rendering="crispEdges"/>
<text x="1024.6" y="937.7" font-size="9.8" fill="#000" stroke="#000" stroke-width="0.25" textLength="55.3" lengthAdjust="spacingAndGlyphs">16 Sep 16:00</text>
<rect x="1089" y="926" width="1" height="4" fill="#000" shape-rendering="crispEdges"/>
<text x="1088.6" y="937.7" font-size="9.8" fill="#000" stroke="#000" stroke-width="0.25" textLength="55.3" lengthAdjust="spacingAndGlyphs">20 Sep 00:00</text>
<rect x="1153" y="926" width="1" height="4" fill="#000" shape-rendering="crispEdges"/>
<text x="1152.6" y="937.7" font-size="9.8" fill="#000" stroke="#000" stroke-width="0.25" textLength="55.3" lengthAdjust="spacingAndGlyphs">21 Sep 08:00</text>
<rect x="1217" y="926" width="1" height="4" fill="#000" shape-rendering="crispEdges"/>
<text x="1216.6" y="937.7" font-size="9.8" fill="#000" stroke="#000" stroke-width="0.25" textLength="55.3" lengthAdjust="spacingAndGlyphs">22 Sep 16:00</text>
<rect x="1281" y="926" width="1" height="4" fill="#000" shape-rendering="crispEdges"/>
<text x="1280.6" y="937.7" font-size="9.8" fill="#000" stroke="#000" stroke-width="0.25" textLength="55.3" lengthAdjust="spacingAndGlyphs">24 Sep 00:00</text>
<rect x="1345" y="926" width="1" height="4" fill="#000" shape-rendering="crispEdges"/>
<text x="1344.6" y="937.7" font-size="9.8" fill="#000" stroke="#000" stroke-width="0.25" textLength="55.3" lengthAdjust="spacingAndGlyphs">27 Sep 08:00</text>
<rect x="1409" y="926" width="1" height="4" fill="#000" shape-rendering="crispEdges"/>
<text x="1408.6" y="937.7" font-size="9.8" fill="#000" stroke="#000" stroke-width="0.25" textLength="55.3" lengthAdjust="spacingAndGlyphs">28 Sep 16:00</text>
<text x="5" y="592" font-size="9.8" fill="#000" stroke="#000" stroke-width="0.25" textLength="154" lengthAdjust="spacingAndGlyphs">MACD(12,26,9) -0.006583 -0.004262</text>
<text x="5" y="763.5" font-size="9.8" fill="#000" stroke="#000" stroke-width="0.25" textLength="67.5" lengthAdjust="spacingAndGlyphs">RSI(14) 19.9574</text>
<polygon points="4,35 11,35 7.5,31" fill="#000"/>
<text x="16" y="35.6" font-size="9.8" fill="#000" stroke="#000" stroke-width="0.25" textLength="56.8" lengthAdjust="spacingAndGlyphs">GBPUSD-,H4</text>
<text x="79.5" y="35.6" font-size="9.8" fill="#000" stroke="#000" stroke-width="0.25" textLength="139.8" lengthAdjust="spacingAndGlyphs">1.34150 1.34256 1.34147 1.34247</text>
<polygon points="1471,25 1481,25 1476,30" fill="#c0c0c0"/>
<defs>
<linearGradient id="rg" x1="0" y1="44" x2="0" y2="101" gradientUnits="userSpaceOnUse">
<stop offset="0" stop-color="#fc5454"/><stop offset="0.42" stop-color="#d92a2a"/><stop offset="0.75" stop-color="#c41414"/><stop offset="1" stop-color="#b00202"/></linearGradient>
<linearGradient id="bg" x1="0" y1="45" x2="0" y2="65" gradientUnits="userSpaceOnUse">
<stop offset="0" stop-color="#f4f4f4"/><stop offset="0.45" stop-color="#e6e6e6"/><stop offset="0.5" stop-color="#d6d6d6"/><stop offset="1" stop-color="#cfcfcf"/></linearGradient>
</defs>
<rect x="3" y="43" width="221" height="59" fill="#fff"/>
<path d="M4.5,44.5H55.5V68.5H112.5V100.5H4.5Z" fill="url(#rg)" stroke="#b00000" stroke-width="1"/>
<path d="M171.5,44.5H222.5V100.5H115.5V68.5H171.5Z" fill="url(#rg)" stroke="#b00000" stroke-width="1"/>
<rect x="8" y="66.6" width="44" height="1" fill="#a80000"/><rect x="8" y="67.8" width="44" height="0.9" fill="#f47070"/>
<rect x="175" y="66.6" width="44" height="1" fill="#a80000"/><rect x="175" y="67.8" width="44" height="0.9" fill="#f47070"/>
<rect x="58.7" y="44.9" width="109.8" height="20.4" fill="#fff" stroke="#a4aab2" stroke-width="1.2"/>
<rect x="59.8" y="46" width="18.8" height="18.3" fill="url(#bg)"/>
<rect x="79" y="45" width="1" height="20.3" fill="#a4aab2"/>
<rect x="148.3" y="46" width="19" height="18.3" fill="url(#bg)"/>
<rect x="147" y="45" width="1" height="20.3" fill="#a4aab2"/>
<polygon points="66,53 71.2,53 68.6,56.2" fill="#4a64c8"/>
<polygon points="155,56 160.4,56 157.7,52.8" fill="#4a64c8"/>
<text x="120.3" y="59" font-size="12.3" fill="#000" textLength="23.3" lengthAdjust="spacingAndGlyphs">1.00</text>
<text x="16.2" y="60" font-size="12.3" fill="#fff" textLength="25.6" lengthAdjust="spacingAndGlyphs">SELL</text>
<text x="184.4" y="60" font-size="12.3" fill="#fff" textLength="23.4" lengthAdjust="spacingAndGlyphs">BUY</text>
<text x="24.2" y="95.9" font-size="12.2" font-weight="bold" fill="#fff" textLength="23.6" lengthAdjust="spacingAndGlyphs">1.34</text>
<text x="134.2" y="95.9" font-size="12.2" font-weight="bold" fill="#fff" textLength="23.6" lengthAdjust="spacingAndGlyphs">1.34</text>
<text x="51.0" y="96.3" font-size="35" fill="#fff" stroke="url(#rg)" stroke-width="0.45" textLength="36.2" lengthAdjust="spacingAndGlyphs">24</text>
<text x="162.4" y="96.3" font-size="35" fill="#fff" stroke="url(#rg)" stroke-width="0.45" textLength="35.6" lengthAdjust="spacingAndGlyphs">27</text>
<text x="90.6" y="80.2" font-size="12.6" fill="#fff" textLength="7.4" lengthAdjust="spacingAndGlyphs">7</text>
<text x="201.9" y="80.2" font-size="12.6" fill="#fff" textLength="7.4" lengthAdjust="spacingAndGlyphs">8</text>
<defs>
<linearGradient id="gold" x1="0" y1="0" x2="1" y2="1"><stop offset="0" stop-color="#f6d040"/><stop offset="1" stop-color="#b87a10"/></linearGradient>
<linearGradient id="lens" x1="0" y1="0" x2="0" y2="1"><stop offset="0" stop-color="#eef6fc"/><stop offset="1" stop-color="#b8d8f0"/></linearGradient>
<linearGradient id="grn" x1="0" y1="0" x2="0" y2="1"><stop offset="0" stop-color="#5ae05a"/><stop offset="1" stop-color="#0aa80a"/></linearGradient>
<linearGradient id="clk" x1="0" y1="0" x2="0" y2="1"><stop offset="0" stop-color="#3a8ae8"/><stop offset="1" stop-color="#0c48a4"/></linearGradient>
<radialGradient id="badge" cx="0.5" cy="0.3" r="0.8"><stop offset="0" stop-color="#ea5030"/><stop offset="1" stop-color="#d81c00"/></radialGradient>
</defs>
<g>
<rect x="-2" y="0.5" width="10" height="8" fill="#fafafa" stroke="#b0b0b0" stroke-width="0.8"/>
<line x1="8" y1="12.6" x2="13" y2="17" stroke="#c8961e" stroke-width="2.6" stroke-linecap="round"/>
<circle cx="4.4" cy="9.6" r="4.7" fill="#d4e6f6" fill-opacity="0.9" stroke="#78a4dc" stroke-width="1.1"/>
<rect x="20.799999999999997" y="0" width="1.2" height="17.5" fill="#a0a0a0"/>
<path d="M32,1H40.6L43.6,4V13.6H32Z" fill="#fff" stroke="#8c8c8c" stroke-width="0.9"/>
<path d="M40.6,1V4H43.6" fill="#e8e8e8" stroke="#8c8c8c" stroke-width="0.8"/>
<path d="M33.6,3.2H36.4M33.6,5.6H41M33.6,8H41M33.6,10.4H37" stroke="#a8a8a8" stroke-width="1"/>
<path d="M39.4,6.6H43V10.2H46.8V13.8H43V17.6H39.4V13.8H35.6V10.2H39.4Z" fill="url(#grn)" stroke="#0c8c0c" stroke-width="0.8"/>
<path transform="translate(50,1.1) scale(0.92)" d="M3,0V1.4 M0.6,2H5.6 M1.6,3L2.1,4.6 M4.6,3L4.1,4.6 M0,5.2H6.2 M0.6,7.6H5.6 M3.1,5.2V11.6L2.2,11 M2.6,8.4L0.4,10.6 M3.7,8.4L5.6,10.2 M11.2,0.4L7.6,1.9 M7.6,1.9V7Q7.6,9.8 6.4,11.6 M7.6,5.1H12 M10.1,5.1V11.8" fill="none" stroke="#000" stroke-width="1.05" stroke-linecap="square"/>
<path transform="translate(62.2,1.1) scale(0.92)" d="M1.4,0.4L2.7,1.9 M0.3,4.1H2.6V10.2L4.3,8.6 M5,2H12 M8.7,2V10.6Q8.7,11.6 7.2,11.2" fill="none" stroke="#000" stroke-width="1.05" stroke-linecap="square"/>
<path transform="translate(74.2,1.1) scale(0.92)" d="M3,0L4.2,1.6 M9.2,0L8,1.6 M1.6,2.6H10.6V7.2H1.6Z M1.6,4.9H10.6 M6.1,2.6V12 M0,9.3H12.2" fill="none" stroke="#000" stroke-width="1.05" stroke-linecap="square"/>
<path d="M102.4,1.5Q104,0.9 105.4,2.2L113.7,8.5L106.5,15.7L97.8,9.8Z" fill="url(#gold)" stroke="#a87410" stroke-width="0.8"/>
<path d="M102.8,2.8Q104,2.4 105,3.4L111.6,8.4L106.4,12.8L99.8,9Z" fill="#fae468" fill-opacity="0.75"/>
<path d="M97.8,9.8L106.5,15.7L113.7,8.5" fill="none" stroke="#8a5c08" stroke-width="1.3"/>
<path d="M99.4,12.2L106.6,17" fill="none" stroke="#c89c30" stroke-width="0.6"/>
<path d="M128.4,0H139.6V9.4H128.4Z" fill="#2f8ee8"/><path d="M131,1.6H138.4V8.6H131Z" fill="#c4e4fc"/><path d="M131,4.2H138.4" stroke="#2f7ed8" stroke-width="1.2"/><path d="M133.4,1.6V4" stroke="#2f7ed8" stroke-width="0.9"/>
<path d="M129,15.6Q125.8,15.4 126.2,12.6Q126.8,10.2 129.6,10.6Q130.6,7.8 134,8.2Q136.6,8.4 137.4,10.4Q139.6,9.6 141,11.2Q142.8,14.8 139.6,15.6Z" fill="#edf3fb" stroke="#6a8cc8" stroke-width="0.9"/>
<path d="M128,14.6H140.4" stroke="#b4c8e8" stroke-width="1.2"/>
<path d="M162,7.6L162.4,15A7.4,7.4 0 0 0 169.2,6Z" fill="#6cb86c" fill-opacity="0.55"/>
<path d="M162,0.6A7.2,7.2 0 0 0 162,15" fill="none" stroke="#8ca6e0" stroke-width="1"/>
<path d="M162,3.2A4.6,4.6 0 0 0 162,12.4" fill="none" stroke="#6a8edc" stroke-width="1.1"/>
<path d="M162,0.6A7.2,7.2 0 0 1 162,15" fill="none" stroke="#72b072" stroke-width="1.2"/>
<path d="M162,3.2A4.6,4.6 0 0 1 162,12.4" fill="none" stroke="#90c490" stroke-width="1.4"/>
<circle cx="162" cy="7.6" r="1.9" fill="#3a64d0"/>
<path d="M162.4,8V15.4" stroke="#20a020" stroke-width="1.3"/>
<path d="M182.6,6.4L188.2,15Q190,16 192,14.8L196.8,6.6Z" fill="#f4cc38" stroke="#d8a418" stroke-width="0.6"/>
<ellipse cx="189.4" cy="3.1" rx="4.2" ry="2.6" fill="#62aee6" stroke="#3a84c8" stroke-width="0.6"/>
<ellipse cx="189.3" cy="4.9" rx="8" ry="2.3" fill="#4c9cdc" stroke="#3a84c8" stroke-width="0.6"/>
<ellipse cx="189.4" cy="4.2" rx="3.4" ry="1.2" fill="#62aee6"/>
<circle cx="193.4" cy="11.6" r="4.1" fill="#e01414"/><rect x="192" y="10.2" width="2.8" height="2.8" fill="#fff"/>
<path transform="translate(203.2,1.1) scale(0.92)" d="M6.2,0L5.2,1.8 M2.2,2.2H10.2V11.6H2.2Z M2.2,5.3H10.2 M2.2,8.4H10.2" fill="none" stroke="#000" stroke-width="1.05" stroke-linecap="square"/>
<path transform="translate(214.9,1.1) scale(0.92)" d="M1,1.6H5.2 M0,4.6H6.2 M3,4.6L1,9.6L5.2,9 M4.4,7.4L5.8,10.4 M6.6,3.6H11.6L11.2,10.6Q11.1,11.6 9.8,11 M9.1,0.4L8.8,5.6Q8.4,9.4 6.4,11.6" fill="none" stroke="#000" stroke-width="1.05" stroke-linecap="square"/>
<path transform="translate(226.6,1.1) scale(0.92)" d="M6,0V1.6 M0.4,2.6H11.8 M3.8,4L1.4,6.6 M8.4,4L10.8,6.6 M8.6,6.2Q6,10 0.8,11.8 M3.6,6.2Q6,10 11.8,11.8" fill="none" stroke="#000" stroke-width="1.05" stroke-linecap="square"/>
<path transform="translate(238.3,1.1) scale(0.92)" d="M2.6,0.5H9.6V5H2.6Z M2.6,2.75H9.6 M3.6,5L0.4,8.6 M2.6,7H11L10.2,10.8Q10,11.8 8.8,11.2 M5.6,7L2.6,11.6 M8.2,7L5.6,11.6" fill="none" stroke="#000" stroke-width="1.05" stroke-linecap="square"/>
<rect x="256.79999999999995" y="0" width="1.2" height="20" fill="#a0a0a0"/>
<rect x="261" y="0.25" width="3" height="1" fill="#acacac"/><rect x="261" y="2.2199999999999998" width="3" height="1" fill="#acacac"/><rect x="261" y="4.1899999999999995" width="3" height="1" fill="#acacac"/><rect x="261" y="6.16" width="3" height="1" fill="#acacac"/><rect x="261" y="8.129999999999999" width="3" height="1" fill="#acacac"/><rect x="261" y="10.1" width="3" height="1" fill="#acacac"/><rect x="261" y="12.07" width="3" height="1" fill="#acacac"/><rect x="261" y="14.04" width="3" height="1" fill="#acacac"/><rect x="261" y="16.009999999999998" width="3" height="1" fill="#acacac"/>
<path d="M275.4,2.6V15.7M273.0,13.6H286.0" stroke="#5a5a5a" stroke-width="1.2" fill="none"/><polygon points="273.79999999999995,4.2 277.0,4.2 275.4,1.8" fill="#5a5a5a"/><polygon points="285.0,12 285.0,15.2 287.4,13.6" fill="#5a5a5a"/>
<path d="M281.6,3.6V11.2M281.6,4.2H284M279.2,10.4H281.6" stroke="#10a010" stroke-width="1.5" fill="none"/>
<rect x="294.7" y="0" width="1.2" height="17.5" fill="#a0a0a0"/>
<rect x="296.2" y="0" width="24.400000000000034" height="18" fill="#f8f8f8"/>
<path d="M303.5,2.6V15.7M301.1,13.6H314.1" stroke="#5a5a5a" stroke-width="1.2" fill="none"/><polygon points="301.9,4.2 305.1,4.2 303.5,1.8" fill="#5a5a5a"/><polygon points="313.1,12 313.1,15.2 315.5,13.6" fill="#5a5a5a"/>
<path d="M309.6,0V11.6" stroke="#0c8c0c" stroke-width="1.3"/><rect x="307.3" y="2.8" width="4.6" height="6.6" fill="#3adc3a" stroke="#0c9a0c" stroke-width="1"/>
<path d="M331.3,2.6V15.7M328.90000000000003,13.6H341.90000000000003" stroke="#5a5a5a" stroke-width="1.2" fill="none"/><polygon points="329.7,4.2 332.90000000000003,4.2 331.3,1.8" fill="#5a5a5a"/><polygon points="340.90000000000003,12 340.90000000000003,15.2 343.3,13.6" fill="#5a5a5a"/>
<path d="M330,10.6Q333,7 335.6,5.4Q337,4.8 338.4,6Q340,7.6 341.8,9.2" stroke="#2aa02a" stroke-width="1.3" fill="none"/>
<rect x="351.59999999999997" y="0" width="1.2" height="17.5" fill="#a0a0a0"/>
<line x1="371.3" y1="10.6" x2="375.6" y2="14.8" stroke="#a8801a" stroke-width="3.2" stroke-linecap="round"/>
<line x1="371.5" y1="10.8" x2="375.4" y2="14.6" stroke="#e4c030" stroke-width="1.8" stroke-linecap="round"/>
<circle cx="367" cy="5.6" r="5.3" fill="url(#lens)" stroke="#3a80c8" stroke-width="1.3"/>
<path d="M364,5.7H370" stroke="#3a84c0" stroke-width="1.9"/>
<path d="M367,2.7V8.7" stroke="#3a84c0" stroke-width="1.9"/>
<line x1="399.40000000000003" y1="10.6" x2="403.70000000000005" y2="14.8" stroke="#a8801a" stroke-width="3.2" stroke-linecap="round"/>
<line x1="399.6" y1="10.8" x2="403.5" y2="14.6" stroke="#e4c030" stroke-width="1.8" stroke-linecap="round"/>
<circle cx="395.1" cy="5.6" r="5.3" fill="url(#lens)" stroke="#3a80c8" stroke-width="1.3"/>
<path d="M392.1,5.7H398.1" stroke="#3a84c0" stroke-width="1.9"/>
<rect x="417.2" y="0" width="7.8" height="7.6" fill="#3aa420"/>
<rect x="418.3" y="3" width="5.6" height="3.7" fill="#fff"/><rect x="419.2" y="4.3" width="3.8" height="0.9" fill="#3aa420" fill-opacity="0.5"/>
<rect x="425.3" y="0" width="7.8" height="7.6" fill="#2a5cd4"/>
<rect x="426.40000000000003" y="3" width="5.6" height="3.7" fill="#fff"/><rect x="427.3" y="4.3" width="3.8" height="0.9" fill="#2a5cd4" fill-opacity="0.5"/>
<rect x="417.2" y="8.2" width="7.8" height="7.6" fill="#2a5cd4"/>
<rect x="418.3" y="11.2" width="5.6" height="3.7" fill="#fff"/><rect x="419.2" y="12.5" width="3.8" height="0.9" fill="#2a5cd4" fill-opacity="0.5"/>
<rect x="425.3" y="8.2" width="7.8" height="7.6" fill="#3aa420"/>
<rect x="426.40000000000003" y="11.2" width="5.6" height="3.7" fill="#fff"/><rect x="427.3" y="12.5" width="3.8" height="0.9" fill="#3aa420" fill-opacity="0.5"/>
<rect x="441.7" y="0" width="1.2" height="17.5" fill="#a0a0a0"/>
<rect x="446.79999999999995" y="0" width="1.2" height="17.5" fill="#a0a0a0"/>
<rect x="448" y="0" width="23.600000000000023" height="18" fill="#f8f8f8"/>
<path d="M455.4,2.6V15.7M453.0,13.6H466.0" stroke="#5a5a5a" stroke-width="1.2" fill="none"/><polygon points="453.79999999999995,4.2 457.0,4.2 455.4,1.8" fill="#5a5a5a"/><polygon points="465.0,12 465.0,15.2 467.4,13.6" fill="#5a5a5a"/>
<polygon points="460.2,4.2 464.2,7.5 460.2,10.8" fill="#70d870" stroke="#10a010" stroke-width="1"/>
<rect x="474.79999999999995" y="0" width="1.2" height="17.5" fill="#a0a0a0"/>
<rect x="476" y="0" width="24" height="18" fill="#f8f8f8"/>
<path d="M483.3,2.6V15.7M480.90000000000003,13.6H493.90000000000003" stroke="#5a5a5a" stroke-width="1.2" fill="none"/><polygon points="481.7,4.2 484.90000000000003,4.2 483.3,1.8" fill="#5a5a5a"/><polygon points="492.90000000000003,12 492.90000000000003,15.2 495.3,13.6" fill="#5a5a5a"/>
<path d="M489.5,2.2V12" stroke="#1a7ab8" stroke-width="1.4"/>
<path d="M491,7.5H495.2" stroke="#d84000" stroke-width="1.2"/><polygon points="490.2,7.5 493,5.6 493,9.4" fill="#d84000"/>
<rect x="503.7" y="0" width="1.2" height="17.5" fill="#a0a0a0"/>
<path d="M514.6,0.8H522.6L525.6,3.8V13.4H514.6Z" fill="#fff" stroke="#8c8c8c" stroke-width="0.9"/>
<path d="M519.4,3.4Q517.4,3 517.4,5V11M516.2,6.6H519" stroke="#707050" stroke-width="1" fill="none"/>
<path d="M522.2,6.6H525.8V10.2H529.8V13.8H525.8V17.8H522.2V13.8H518.2V10.2H522.2Z" fill="url(#grn)" stroke="#0c8c0c" stroke-width="0.8"/>
<polygon points="536,6.9 541.3,6.9 538.65,10.2" fill="#000"/>
<circle cx="560" cy="7.9" r="6.6" fill="#f4f8fc" stroke="url(#clk)" stroke-width="2.7"/>
<path d="M559.4,4.6V8.2H562" stroke="#303030" stroke-width="1.1" fill="none"/>
<polygon points="575,6.9 580.3,6.9 577.65,10.2" fill="#000"/>
<rect x="591.4" y="1.4" width="15.4" height="13" fill="#fff" stroke="#3a78c8" stroke-width="1"/>
<rect x="591.4" y="1.4" width="15.4" height="2.4" fill="#78b0ec"/>
<path d="M591.4,8.8H606.8" stroke="#3a78c8" stroke-width="0.9"/>
<path d="M593.4,7.2L595.6,7L597.6,5.8L599.6,6.4L601.6,5.6L603.6,6L605,5.2" stroke="#a82000" stroke-width="1.1" fill="none"/>
<path d="M593.8,12.6L596,12L598,12.6L600,11.2L602,10.2L603.6,11.4L604.8,12.4" stroke="#10a010" stroke-width="1.1" fill="none"/>
<polygon points="613.9,6.9 619.1999999999999,6.9 616.55,10.2" fill="#000"/>
<rect x="624.9" y="0" width="1.2" height="20" fill="#a0a0a0"/>
<rect x="628.9" y="0.25" width="3" height="1" fill="#acacac"/><rect x="628.9" y="2.2199999999999998" width="3" height="1" fill="#acacac"/><rect x="628.9" y="4.1899999999999995" width="3" height="1" fill="#acacac"/><rect x="628.9" y="6.16" width="3" height="1" fill="#acacac"/><rect x="628.9" y="8.129999999999999" width="3" height="1" fill="#acacac"/><rect x="628.9" y="10.1" width="3" height="1" fill="#acacac"/><rect x="628.9" y="12.07" width="3" height="1" fill="#acacac"/><rect x="628.9" y="14.04" width="3" height="1" fill="#acacac"/><rect x="628.9" y="16.009999999999998" width="3" height="1" fill="#acacac"/>
<rect x="634.8" y="0" width="1.2" height="17.5" fill="#a0a0a0"/>
<rect x="636" y="0" width="24" height="18" fill="#f8f8f8"/>
<polygon points="643.1,1.1 643.1,12 645.7,9.7 648,14.6 649.9,13.8 647.6,9 651,8.2" fill="#505050"/>
<path d="M667.8,8.4H674M677,8.4H682.8M675.5,1.1V6.9M675.5,9.9V15.7" stroke="#505050" stroke-width="1.2"/><rect x="675" y="7.9" width="1" height="1" fill="#505050"/>
<rect x="691.6999999999999" y="0" width="1.2" height="17.5" fill="#a0a0a0"/>
<path d="M709.4,2.1V14.8" stroke="#505050" stroke-width="1.4"/>
<path d="M732.1,8.4H744.1" stroke="#505050" stroke-width="1.3"/>
<path d="M760,14.8L772,3" stroke="#505050" stroke-width="1.2"/>
<path d="M786.2,9.7L794.5,2.2M790.7,14.6L799.7,6.4" stroke="#505050" stroke-width="1.1"/>
<path d="M788,8.4L789,13.6L791,6L792,11.4L794,3.6L795,8.6L797.5,0V4.5" stroke="#505050" stroke-width="0.9" fill="none"/>
<text x="796.6" y="16.6" font-size="6.6" font-weight="bold" fill="#404040">E</text>
<line x1="814.9" y1="1.3" x2="828.4" y2="1.3" stroke="#606060" stroke-width="1" stroke-dasharray="0.9 0.8"/>
<line x1="814.9" y1="4.6" x2="828.4" y2="4.6" stroke="#606060" stroke-width="1" stroke-dasharray="0.9 0.8"/>
<line x1="814.9" y1="8.6" x2="828.4" y2="8.6" stroke="#606060" stroke-width="1" stroke-dasharray="0.9 0.8"/>
<line x1="814.9" y1="12.6" x2="823.5" y2="12.6" stroke="#606060" stroke-width="1" stroke-dasharray="0.9 0.8"/>
<text x="824.2" y="16.6" font-size="6.6" font-weight="bold" fill="#404040">F</text>
<text x="845.4" y="13.1" font-size="12.6" fill="#555" stroke="#555" stroke-width="0.35" textLength="8.6" lengthAdjust="spacingAndGlyphs">A</text>
<rect x="872.2" y="2.6" width="11.4" height="11.8" fill="none" stroke="#505050" stroke-width="1" stroke-dasharray="1 1"/>
<path d="M873.9,5.5H882M877.9,5.5V12.7" stroke="#505050" stroke-width="1.4" fill="none"/>
<polygon points="902.6,1.8 905.6,4.4 902.6,6.6 899.6,4.4" fill="#505050"/>
<polygon points="909.3,9.6 912.6,12.2 909.3,15 906,12.2" fill="#505050"/>
<path d="M901.6,9.4L903.8,11.6L907.6,6.4" stroke="#505050" stroke-width="1.3" fill="none"/>
<polygon points="919.8,6.9 925.0999999999999,6.9 922.4499999999999,10.2" fill="#000"/>
<rect x="930.9" y="0" width="1.2" height="20" fill="#a0a0a0"/>
<rect x="935.1" y="0.25" width="3" height="1" fill="#acacac"/><rect x="935.1" y="2.2199999999999998" width="3" height="1" fill="#acacac"/><rect x="935.1" y="4.1899999999999995" width="3" height="1" fill="#acacac"/><rect x="935.1" y="6.16" width="3" height="1" fill="#acacac"/><rect x="935.1" y="8.129999999999999" width="3" height="1" fill="#acacac"/><rect x="935.1" y="10.1" width="3" height="1" fill="#acacac"/><rect x="935.1" y="12.07" width="3" height="1" fill="#acacac"/><rect x="935.1" y="14.04" width="3" height="1" fill="#acacac"/><rect x="935.1" y="16.009999999999998" width="3" height="1" fill="#acacac"/>
<rect x="1080.8000000000002" y="0" width="1.2" height="17.5" fill="#a0a0a0"/>
<rect x="1082.2" y="0" width="23.899999999999864" height="18" fill="#f8f8f8"/>
<text x="946.7" y="11.7" font-size="9.7" fill="#404040" textLength="12.4" lengthAdjust="spacingAndGlyphs">M1</text>
<text x="974.9" y="11.7" font-size="9.7" fill="#404040" textLength="12.3" lengthAdjust="spacingAndGlyphs">M5</text>
<text x="1000.7" y="11.7" font-size="9.7" fill="#404040" textLength="17.6" lengthAdjust="spacingAndGlyphs">M15</text>
<text x="1028.8" y="11.7" font-size="9.7" fill="#404040" textLength="17.3" lengthAdjust="spacingAndGlyphs">M30</text>
<text x="1059.7" y="11.7" font-size="9.7" fill="#404040" textLength="11.2" lengthAdjust="spacingAndGlyphs">H1</text>
<text x="1086.9" y="11.7" font-size="9.7" fill="#404040" textLength="12" lengthAdjust="spacingAndGlyphs">H4</text>
<text x="1115.7" y="11.7" font-size="9.7" fill="#404040" textLength="11.3" lengthAdjust="spacingAndGlyphs">D1</text>
<text x="1143.1" y="11.7" font-size="9.7" fill="#404040" textLength="13.9" lengthAdjust="spacingAndGlyphs">W1</text>
<text x="1169.8" y="11.7" font-size="9.7" fill="#404040" textLength="14.3" lengthAdjust="spacingAndGlyphs">MN</text>
<rect x="1192.0" y="0" width="1.2" height="20" fill="#a0a0a0"/>
<line x1="1659.6" y1="8.9" x2="1655.2" y2="13" stroke="#2458cc" stroke-width="2.6"/>
<circle cx="1662.5" cy="5.6" r="3.4" fill="#f2f2fc" stroke="#2a60d4" stroke-width="1.2"/>
<path d="M1679.4,10.4Q1679.4,5.8 1685.4,5.8Q1691.6,5.8 1691.6,10.2Q1691.6,14.2 1685.6,14.4L1683.4,14.4L1682,16.6L1682,14Q1679.4,13 1679.4,10.4Z" fill="#e2e2ee" stroke="#b4b4b4" stroke-width="1"/>
<circle cx="1693.3" cy="6.2" r="8" fill="url(#badge)"/>
<text x="1689.6" y="10.1" font-size="12.6" font-family="Liberation Serif, serif" font-weight="bold" fill="#fff" textLength="6" lengthAdjust="spacingAndGlyphs" style="font-family:'Liberation Serif',serif">1</text>
</g>
</svg></body></html>
